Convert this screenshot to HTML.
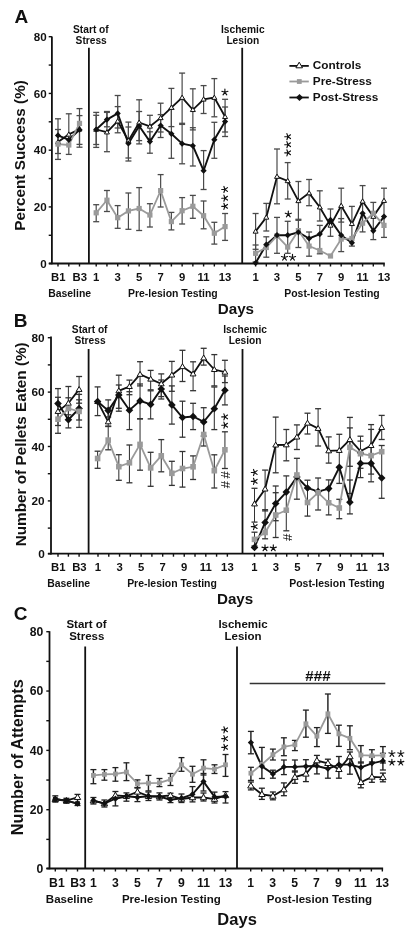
<!DOCTYPE html>
<html><head><meta charset="utf-8"><style>
html,body{margin:0;padding:0;background:#fff;}
body{width:412px;height:937px;overflow:hidden;font-family:"Liberation Sans", sans-serif;}
svg{display:block;filter:blur(0.3px);}
</style></head><body>
<svg width="412" height="937" viewBox="0 0 412 937" font-family='"Liberation Sans", sans-serif'>
<rect width="412" height="937" fill="#fff"/>
<line x1="51.90" y1="36.50" x2="51.90" y2="264.30" stroke="#111" stroke-width="1.8" />
<line x1="48.70" y1="263.50" x2="51.90" y2="263.50" stroke="#111" stroke-width="1.4" />
<text x="46.6" y="267.6" font-size="11.6" text-anchor="end" font-weight="bold" fill="#111" >0</text>
<line x1="48.70" y1="235.29" x2="51.90" y2="235.29" stroke="#111" stroke-width="1.4" />
<line x1="48.70" y1="206.92" x2="51.90" y2="206.92" stroke="#111" stroke-width="1.4" />
<text x="46.6" y="211.0" font-size="11.6" text-anchor="end" font-weight="bold" fill="#111" >20</text>
<line x1="48.70" y1="178.55" x2="51.90" y2="178.55" stroke="#111" stroke-width="1.4" />
<line x1="48.70" y1="150.18" x2="51.90" y2="150.18" stroke="#111" stroke-width="1.4" />
<text x="46.6" y="154.2" font-size="11.6" text-anchor="end" font-weight="bold" fill="#111" >40</text>
<line x1="48.70" y1="121.81" x2="51.90" y2="121.81" stroke="#111" stroke-width="1.4" />
<line x1="48.70" y1="93.44" x2="51.90" y2="93.44" stroke="#111" stroke-width="1.4" />
<text x="46.6" y="97.5" font-size="11.6" text-anchor="end" font-weight="bold" fill="#111" >60</text>
<line x1="48.70" y1="65.07" x2="51.90" y2="65.07" stroke="#111" stroke-width="1.4" />
<line x1="48.70" y1="36.70" x2="51.90" y2="36.70" stroke="#111" stroke-width="1.4" />
<text x="46.6" y="40.8" font-size="11.6" text-anchor="end" font-weight="bold" fill="#111" >80</text>
<line x1="48.90" y1="263.50" x2="384.80" y2="263.50" stroke="#111" stroke-width="1.8" />
<line x1="58.00" y1="263.50" x2="58.00" y2="266.50" stroke="#111" stroke-width="1.4" />
<line x1="68.80" y1="263.50" x2="68.80" y2="266.50" stroke="#111" stroke-width="1.4" />
<line x1="79.50" y1="263.50" x2="79.50" y2="266.50" stroke="#111" stroke-width="1.4" />
<line x1="96.20" y1="263.50" x2="96.20" y2="266.50" stroke="#111" stroke-width="1.4" />
<line x1="106.94" y1="263.50" x2="106.94" y2="266.50" stroke="#111" stroke-width="1.4" />
<line x1="117.68" y1="263.50" x2="117.68" y2="266.50" stroke="#111" stroke-width="1.4" />
<line x1="128.42" y1="263.50" x2="128.42" y2="266.50" stroke="#111" stroke-width="1.4" />
<line x1="139.16" y1="263.50" x2="139.16" y2="266.50" stroke="#111" stroke-width="1.4" />
<line x1="149.90" y1="263.50" x2="149.90" y2="266.50" stroke="#111" stroke-width="1.4" />
<line x1="160.64" y1="263.50" x2="160.64" y2="266.50" stroke="#111" stroke-width="1.4" />
<line x1="171.38" y1="263.50" x2="171.38" y2="266.50" stroke="#111" stroke-width="1.4" />
<line x1="182.12" y1="263.50" x2="182.12" y2="266.50" stroke="#111" stroke-width="1.4" />
<line x1="192.86" y1="263.50" x2="192.86" y2="266.50" stroke="#111" stroke-width="1.4" />
<line x1="203.60" y1="263.50" x2="203.60" y2="266.50" stroke="#111" stroke-width="1.4" />
<line x1="214.34" y1="263.50" x2="214.34" y2="266.50" stroke="#111" stroke-width="1.4" />
<line x1="225.08" y1="263.50" x2="225.08" y2="266.50" stroke="#111" stroke-width="1.4" />
<line x1="255.60" y1="263.50" x2="255.60" y2="266.50" stroke="#111" stroke-width="1.4" />
<line x1="266.30" y1="263.50" x2="266.30" y2="266.50" stroke="#111" stroke-width="1.4" />
<line x1="277.00" y1="263.50" x2="277.00" y2="266.50" stroke="#111" stroke-width="1.4" />
<line x1="287.70" y1="263.50" x2="287.70" y2="266.50" stroke="#111" stroke-width="1.4" />
<line x1="298.40" y1="263.50" x2="298.40" y2="266.50" stroke="#111" stroke-width="1.4" />
<line x1="309.10" y1="263.50" x2="309.10" y2="266.50" stroke="#111" stroke-width="1.4" />
<line x1="319.80" y1="263.50" x2="319.80" y2="266.50" stroke="#111" stroke-width="1.4" />
<line x1="330.50" y1="263.50" x2="330.50" y2="266.50" stroke="#111" stroke-width="1.4" />
<line x1="341.20" y1="263.50" x2="341.20" y2="266.50" stroke="#111" stroke-width="1.4" />
<line x1="351.90" y1="263.50" x2="351.90" y2="266.50" stroke="#111" stroke-width="1.4" />
<line x1="362.60" y1="263.50" x2="362.60" y2="266.50" stroke="#111" stroke-width="1.4" />
<line x1="373.30" y1="263.50" x2="373.30" y2="266.50" stroke="#111" stroke-width="1.4" />
<line x1="384.00" y1="263.50" x2="384.00" y2="266.50" stroke="#111" stroke-width="1.4" />
<text x="58.3" y="281.1" font-size="11.3" text-anchor="middle" font-weight="bold" fill="#111" >B1</text>
<text x="79.8" y="281.1" font-size="11.3" text-anchor="middle" font-weight="bold" fill="#111" >B3</text>
<text x="96.2" y="281.1" font-size="11.3" text-anchor="middle" font-weight="bold" fill="#111" >1</text>
<text x="255.6" y="281.1" font-size="11.3" text-anchor="middle" font-weight="bold" fill="#111" >1</text>
<text x="117.7" y="281.1" font-size="11.3" text-anchor="middle" font-weight="bold" fill="#111" >3</text>
<text x="277.0" y="281.1" font-size="11.3" text-anchor="middle" font-weight="bold" fill="#111" >3</text>
<text x="139.2" y="281.1" font-size="11.3" text-anchor="middle" font-weight="bold" fill="#111" >5</text>
<text x="298.4" y="281.1" font-size="11.3" text-anchor="middle" font-weight="bold" fill="#111" >5</text>
<text x="160.6" y="281.1" font-size="11.3" text-anchor="middle" font-weight="bold" fill="#111" >7</text>
<text x="319.8" y="281.1" font-size="11.3" text-anchor="middle" font-weight="bold" fill="#111" >7</text>
<text x="182.1" y="281.1" font-size="11.3" text-anchor="middle" font-weight="bold" fill="#111" >9</text>
<text x="341.2" y="281.1" font-size="11.3" text-anchor="middle" font-weight="bold" fill="#111" >9</text>
<text x="203.6" y="281.1" font-size="11.3" text-anchor="middle" font-weight="bold" fill="#111" >11</text>
<text x="362.6" y="281.1" font-size="11.3" text-anchor="middle" font-weight="bold" fill="#111" >11</text>
<text x="225.1" y="281.1" font-size="11.3" text-anchor="middle" font-weight="bold" fill="#111" >13</text>
<text x="384.0" y="281.1" font-size="11.3" text-anchor="middle" font-weight="bold" fill="#111" >13</text>
<text x="69.6" y="296.5" font-size="10.45" text-anchor="middle" font-weight="bold" fill="#111" >Baseline</text>
<text x="172.8" y="296.5" font-size="10.45" text-anchor="middle" font-weight="bold" fill="#111" >Pre-lesion Testing</text>
<text x="332.0" y="296.5" font-size="10.45" text-anchor="middle" font-weight="bold" fill="#111" >Post-lesion Testing</text>
<text x="235.9" y="314.4" font-size="15.2" text-anchor="middle" font-weight="bold" fill="#111" >Days</text>
<line x1="88.90" y1="47.80" x2="88.90" y2="263.50" stroke="#111" stroke-width="1.8" />
<line x1="242.20" y1="47.80" x2="242.20" y2="263.50" stroke="#111" stroke-width="1.8" />
<text x="90.9" y="33.0" font-size="10.2" text-anchor="middle" font-weight="bold" fill="#111" >Start of</text>
<text x="91.2" y="44.0" font-size="10.2" text-anchor="middle" font-weight="bold" fill="#111" >Stress</text>
<text x="242.8" y="33.0" font-size="10.2" text-anchor="middle" font-weight="bold" fill="#111" >Ischemic</text>
<text x="242.8" y="44.0" font-size="10.2" text-anchor="middle" font-weight="bold" fill="#111" >Lesion</text>
<text x="14.5" y="23.4" font-size="19" text-anchor="start" font-weight="bold" fill="#111" >A</text>
<text x="0" y="0" font-size="15.3" text-anchor="middle" font-weight="bold" fill="#111" transform="translate(25.4,155.4) rotate(-90)">Percent Success (%)</text>
<line x1="58.00" y1="118.80" x2="58.00" y2="153.50" stroke="#4a4a4a" stroke-width="1.2" />
<line x1="55.00" y1="118.80" x2="61.00" y2="118.80" stroke="#4a4a4a" stroke-width="1.3" />
<line x1="55.00" y1="153.50" x2="61.00" y2="153.50" stroke="#4a4a4a" stroke-width="1.3" />
<line x1="58.00" y1="129.50" x2="58.00" y2="159.40" stroke="#4a4a4a" stroke-width="1.2" />
<line x1="55.00" y1="129.50" x2="61.00" y2="129.50" stroke="#4a4a4a" stroke-width="1.3" />
<line x1="55.00" y1="159.40" x2="61.00" y2="159.40" stroke="#4a4a4a" stroke-width="1.3" />
<line x1="68.80" y1="113.80" x2="68.80" y2="154.40" stroke="#4a4a4a" stroke-width="1.2" />
<line x1="65.80" y1="113.80" x2="71.80" y2="113.80" stroke="#4a4a4a" stroke-width="1.3" />
<line x1="65.80" y1="154.40" x2="71.80" y2="154.40" stroke="#4a4a4a" stroke-width="1.3" />
<line x1="79.50" y1="108.60" x2="79.50" y2="147.20" stroke="#4a4a4a" stroke-width="1.2" />
<line x1="76.50" y1="108.60" x2="82.50" y2="108.60" stroke="#4a4a4a" stroke-width="1.3" />
<line x1="76.50" y1="147.20" x2="82.50" y2="147.20" stroke="#4a4a4a" stroke-width="1.3" />
<line x1="79.50" y1="115.60" x2="79.50" y2="144.40" stroke="#4a4a4a" stroke-width="1.2" />
<line x1="76.50" y1="115.60" x2="82.50" y2="115.60" stroke="#4a4a4a" stroke-width="1.3" />
<line x1="76.50" y1="144.40" x2="82.50" y2="144.40" stroke="#4a4a4a" stroke-width="1.3" />
<line x1="96.20" y1="112.40" x2="96.20" y2="144.50" stroke="#4a4a4a" stroke-width="1.2" />
<line x1="93.20" y1="112.40" x2="99.20" y2="112.40" stroke="#4a4a4a" stroke-width="1.3" />
<line x1="93.20" y1="144.50" x2="99.20" y2="144.50" stroke="#4a4a4a" stroke-width="1.3" />
<line x1="96.20" y1="115.30" x2="96.20" y2="147.40" stroke="#4a4a4a" stroke-width="1.2" />
<line x1="93.20" y1="115.30" x2="99.20" y2="115.30" stroke="#4a4a4a" stroke-width="1.3" />
<line x1="93.20" y1="147.40" x2="99.20" y2="147.40" stroke="#4a4a4a" stroke-width="1.3" />
<line x1="96.20" y1="204.70" x2="96.20" y2="221.70" stroke="#4a4a4a" stroke-width="1.2" />
<line x1="93.20" y1="204.70" x2="99.20" y2="204.70" stroke="#4a4a4a" stroke-width="1.3" />
<line x1="93.20" y1="221.70" x2="99.20" y2="221.70" stroke="#4a4a4a" stroke-width="1.3" />
<line x1="106.94" y1="111.50" x2="106.94" y2="151.70" stroke="#4a4a4a" stroke-width="1.2" />
<line x1="103.94" y1="111.50" x2="109.94" y2="111.50" stroke="#4a4a4a" stroke-width="1.3" />
<line x1="103.94" y1="151.70" x2="109.94" y2="151.70" stroke="#4a4a4a" stroke-width="1.3" />
<line x1="106.94" y1="112.40" x2="106.94" y2="126.80" stroke="#4a4a4a" stroke-width="1.2" />
<line x1="103.94" y1="112.40" x2="109.94" y2="112.40" stroke="#4a4a4a" stroke-width="1.3" />
<line x1="103.94" y1="126.80" x2="109.94" y2="126.80" stroke="#4a4a4a" stroke-width="1.3" />
<line x1="106.94" y1="190.50" x2="106.94" y2="211.50" stroke="#4a4a4a" stroke-width="1.2" />
<line x1="103.94" y1="190.50" x2="109.94" y2="190.50" stroke="#4a4a4a" stroke-width="1.3" />
<line x1="103.94" y1="211.50" x2="109.94" y2="211.50" stroke="#4a4a4a" stroke-width="1.3" />
<line x1="117.68" y1="95.50" x2="117.68" y2="128.00" stroke="#4a4a4a" stroke-width="1.2" />
<line x1="114.68" y1="95.50" x2="120.68" y2="95.50" stroke="#4a4a4a" stroke-width="1.3" />
<line x1="114.68" y1="128.00" x2="120.68" y2="128.00" stroke="#4a4a4a" stroke-width="1.3" />
<line x1="117.68" y1="106.60" x2="117.68" y2="132.80" stroke="#4a4a4a" stroke-width="1.2" />
<line x1="114.68" y1="106.60" x2="120.68" y2="106.60" stroke="#4a4a4a" stroke-width="1.3" />
<line x1="114.68" y1="132.80" x2="120.68" y2="132.80" stroke="#4a4a4a" stroke-width="1.3" />
<line x1="117.68" y1="205.60" x2="117.68" y2="228.30" stroke="#4a4a4a" stroke-width="1.2" />
<line x1="114.68" y1="205.60" x2="120.68" y2="205.60" stroke="#4a4a4a" stroke-width="1.3" />
<line x1="114.68" y1="228.30" x2="120.68" y2="228.30" stroke="#4a4a4a" stroke-width="1.3" />
<line x1="128.42" y1="122.10" x2="128.42" y2="158.00" stroke="#4a4a4a" stroke-width="1.2" />
<line x1="125.42" y1="122.10" x2="131.42" y2="122.10" stroke="#4a4a4a" stroke-width="1.3" />
<line x1="125.42" y1="158.00" x2="131.42" y2="158.00" stroke="#4a4a4a" stroke-width="1.3" />
<line x1="128.42" y1="127.00" x2="128.42" y2="161.00" stroke="#4a4a4a" stroke-width="1.2" />
<line x1="125.42" y1="127.00" x2="131.42" y2="127.00" stroke="#4a4a4a" stroke-width="1.3" />
<line x1="125.42" y1="161.00" x2="131.42" y2="161.00" stroke="#4a4a4a" stroke-width="1.3" />
<line x1="128.42" y1="193.00" x2="128.42" y2="229.30" stroke="#4a4a4a" stroke-width="1.2" />
<line x1="125.42" y1="193.00" x2="131.42" y2="193.00" stroke="#4a4a4a" stroke-width="1.3" />
<line x1="125.42" y1="229.30" x2="131.42" y2="229.30" stroke="#4a4a4a" stroke-width="1.3" />
<line x1="139.16" y1="99.80" x2="139.16" y2="140.60" stroke="#4a4a4a" stroke-width="1.2" />
<line x1="136.16" y1="99.80" x2="142.16" y2="99.80" stroke="#4a4a4a" stroke-width="1.3" />
<line x1="136.16" y1="140.60" x2="142.16" y2="140.60" stroke="#4a4a4a" stroke-width="1.3" />
<line x1="139.16" y1="111.50" x2="139.16" y2="143.90" stroke="#4a4a4a" stroke-width="1.2" />
<line x1="136.16" y1="111.50" x2="142.16" y2="111.50" stroke="#4a4a4a" stroke-width="1.3" />
<line x1="136.16" y1="143.90" x2="142.16" y2="143.90" stroke="#4a4a4a" stroke-width="1.3" />
<line x1="139.16" y1="187.60" x2="139.16" y2="230.50" stroke="#4a4a4a" stroke-width="1.2" />
<line x1="136.16" y1="187.60" x2="142.16" y2="187.60" stroke="#4a4a4a" stroke-width="1.3" />
<line x1="136.16" y1="230.50" x2="142.16" y2="230.50" stroke="#4a4a4a" stroke-width="1.3" />
<line x1="149.90" y1="115.30" x2="149.90" y2="138.60" stroke="#4a4a4a" stroke-width="1.2" />
<line x1="146.90" y1="115.30" x2="152.90" y2="115.30" stroke="#4a4a4a" stroke-width="1.3" />
<line x1="146.90" y1="138.60" x2="152.90" y2="138.60" stroke="#4a4a4a" stroke-width="1.3" />
<line x1="149.90" y1="131.80" x2="149.90" y2="153.20" stroke="#4a4a4a" stroke-width="1.2" />
<line x1="146.90" y1="131.80" x2="152.90" y2="131.80" stroke="#4a4a4a" stroke-width="1.3" />
<line x1="146.90" y1="153.20" x2="152.90" y2="153.20" stroke="#4a4a4a" stroke-width="1.3" />
<line x1="149.90" y1="203.70" x2="149.90" y2="227.00" stroke="#4a4a4a" stroke-width="1.2" />
<line x1="146.90" y1="203.70" x2="152.90" y2="203.70" stroke="#4a4a4a" stroke-width="1.3" />
<line x1="146.90" y1="227.00" x2="152.90" y2="227.00" stroke="#4a4a4a" stroke-width="1.3" />
<line x1="160.64" y1="103.20" x2="160.64" y2="132.00" stroke="#4a4a4a" stroke-width="1.2" />
<line x1="157.64" y1="103.20" x2="163.64" y2="103.20" stroke="#4a4a4a" stroke-width="1.3" />
<line x1="157.64" y1="132.00" x2="163.64" y2="132.00" stroke="#4a4a4a" stroke-width="1.3" />
<line x1="160.64" y1="114.60" x2="160.64" y2="137.50" stroke="#4a4a4a" stroke-width="1.2" />
<line x1="157.64" y1="114.60" x2="163.64" y2="114.60" stroke="#4a4a4a" stroke-width="1.3" />
<line x1="157.64" y1="137.50" x2="163.64" y2="137.50" stroke="#4a4a4a" stroke-width="1.3" />
<line x1="160.64" y1="174.60" x2="160.64" y2="207.00" stroke="#4a4a4a" stroke-width="1.2" />
<line x1="157.64" y1="174.60" x2="163.64" y2="174.60" stroke="#4a4a4a" stroke-width="1.3" />
<line x1="157.64" y1="207.00" x2="163.64" y2="207.00" stroke="#4a4a4a" stroke-width="1.3" />
<line x1="171.38" y1="88.40" x2="171.38" y2="126.60" stroke="#4a4a4a" stroke-width="1.2" />
<line x1="168.38" y1="88.40" x2="174.38" y2="88.40" stroke="#4a4a4a" stroke-width="1.3" />
<line x1="168.38" y1="126.60" x2="174.38" y2="126.60" stroke="#4a4a4a" stroke-width="1.3" />
<line x1="171.38" y1="109.30" x2="171.38" y2="158.30" stroke="#4a4a4a" stroke-width="1.2" />
<line x1="168.38" y1="109.30" x2="174.38" y2="109.30" stroke="#4a4a4a" stroke-width="1.3" />
<line x1="168.38" y1="158.30" x2="174.38" y2="158.30" stroke="#4a4a4a" stroke-width="1.3" />
<line x1="171.38" y1="212.40" x2="171.38" y2="229.90" stroke="#4a4a4a" stroke-width="1.2" />
<line x1="168.38" y1="212.40" x2="174.38" y2="212.40" stroke="#4a4a4a" stroke-width="1.3" />
<line x1="168.38" y1="229.90" x2="174.38" y2="229.90" stroke="#4a4a4a" stroke-width="1.3" />
<line x1="182.12" y1="73.10" x2="182.12" y2="124.40" stroke="#4a4a4a" stroke-width="1.2" />
<line x1="179.12" y1="73.10" x2="185.12" y2="73.10" stroke="#4a4a4a" stroke-width="1.3" />
<line x1="179.12" y1="124.40" x2="185.12" y2="124.40" stroke="#4a4a4a" stroke-width="1.3" />
<line x1="182.12" y1="123.30" x2="182.12" y2="163.80" stroke="#4a4a4a" stroke-width="1.2" />
<line x1="179.12" y1="123.30" x2="185.12" y2="123.30" stroke="#4a4a4a" stroke-width="1.3" />
<line x1="179.12" y1="163.80" x2="185.12" y2="163.80" stroke="#4a4a4a" stroke-width="1.3" />
<line x1="182.12" y1="197.60" x2="182.12" y2="224.00" stroke="#4a4a4a" stroke-width="1.2" />
<line x1="179.12" y1="197.60" x2="185.12" y2="197.60" stroke="#4a4a4a" stroke-width="1.3" />
<line x1="179.12" y1="224.00" x2="185.12" y2="224.00" stroke="#4a4a4a" stroke-width="1.3" />
<line x1="192.86" y1="88.80" x2="192.86" y2="129.90" stroke="#4a4a4a" stroke-width="1.2" />
<line x1="189.86" y1="88.80" x2="195.86" y2="88.80" stroke="#4a4a4a" stroke-width="1.3" />
<line x1="189.86" y1="129.90" x2="195.86" y2="129.90" stroke="#4a4a4a" stroke-width="1.3" />
<line x1="192.86" y1="127.70" x2="192.86" y2="166.00" stroke="#4a4a4a" stroke-width="1.2" />
<line x1="189.86" y1="127.70" x2="195.86" y2="127.70" stroke="#4a4a4a" stroke-width="1.3" />
<line x1="189.86" y1="166.00" x2="195.86" y2="166.00" stroke="#4a4a4a" stroke-width="1.3" />
<line x1="192.86" y1="195.40" x2="192.86" y2="218.30" stroke="#4a4a4a" stroke-width="1.2" />
<line x1="189.86" y1="195.40" x2="195.86" y2="195.40" stroke="#4a4a4a" stroke-width="1.3" />
<line x1="189.86" y1="218.30" x2="195.86" y2="218.30" stroke="#4a4a4a" stroke-width="1.3" />
<line x1="203.60" y1="85.60" x2="203.60" y2="113.50" stroke="#4a4a4a" stroke-width="1.2" />
<line x1="200.60" y1="85.60" x2="206.60" y2="85.60" stroke="#4a4a4a" stroke-width="1.3" />
<line x1="200.60" y1="113.50" x2="206.60" y2="113.50" stroke="#4a4a4a" stroke-width="1.3" />
<line x1="203.60" y1="150.60" x2="203.60" y2="189.50" stroke="#4a4a4a" stroke-width="1.2" />
<line x1="200.60" y1="150.60" x2="206.60" y2="150.60" stroke="#4a4a4a" stroke-width="1.3" />
<line x1="200.60" y1="189.50" x2="206.60" y2="189.50" stroke="#4a4a4a" stroke-width="1.3" />
<line x1="203.60" y1="201.00" x2="203.60" y2="228.80" stroke="#4a4a4a" stroke-width="1.2" />
<line x1="200.60" y1="201.00" x2="206.60" y2="201.00" stroke="#4a4a4a" stroke-width="1.3" />
<line x1="200.60" y1="228.80" x2="206.60" y2="228.80" stroke="#4a4a4a" stroke-width="1.3" />
<line x1="214.34" y1="78.60" x2="214.34" y2="116.80" stroke="#4a4a4a" stroke-width="1.2" />
<line x1="211.34" y1="78.60" x2="217.34" y2="78.60" stroke="#4a4a4a" stroke-width="1.3" />
<line x1="211.34" y1="116.80" x2="217.34" y2="116.80" stroke="#4a4a4a" stroke-width="1.3" />
<line x1="214.34" y1="122.30" x2="214.34" y2="158.30" stroke="#4a4a4a" stroke-width="1.2" />
<line x1="211.34" y1="122.30" x2="217.34" y2="122.30" stroke="#4a4a4a" stroke-width="1.3" />
<line x1="211.34" y1="158.30" x2="217.34" y2="158.30" stroke="#4a4a4a" stroke-width="1.3" />
<line x1="214.34" y1="222.30" x2="214.34" y2="244.10" stroke="#4a4a4a" stroke-width="1.2" />
<line x1="211.34" y1="222.30" x2="217.34" y2="222.30" stroke="#4a4a4a" stroke-width="1.3" />
<line x1="211.34" y1="244.10" x2="217.34" y2="244.10" stroke="#4a4a4a" stroke-width="1.3" />
<line x1="225.08" y1="99.30" x2="225.08" y2="132.00" stroke="#4a4a4a" stroke-width="1.2" />
<line x1="222.08" y1="99.30" x2="228.08" y2="99.30" stroke="#4a4a4a" stroke-width="1.3" />
<line x1="222.08" y1="132.00" x2="228.08" y2="132.00" stroke="#4a4a4a" stroke-width="1.3" />
<line x1="225.08" y1="107.00" x2="225.08" y2="136.50" stroke="#4a4a4a" stroke-width="1.2" />
<line x1="222.08" y1="107.00" x2="228.08" y2="107.00" stroke="#4a4a4a" stroke-width="1.3" />
<line x1="222.08" y1="136.50" x2="228.08" y2="136.50" stroke="#4a4a4a" stroke-width="1.3" />
<line x1="225.08" y1="213.50" x2="225.08" y2="240.40" stroke="#4a4a4a" stroke-width="1.2" />
<line x1="222.08" y1="213.50" x2="228.08" y2="213.50" stroke="#4a4a4a" stroke-width="1.3" />
<line x1="222.08" y1="240.40" x2="228.08" y2="240.40" stroke="#4a4a4a" stroke-width="1.3" />
<line x1="255.60" y1="213.50" x2="255.60" y2="249.30" stroke="#4a4a4a" stroke-width="1.2" />
<line x1="252.60" y1="213.50" x2="258.60" y2="213.50" stroke="#4a4a4a" stroke-width="1.3" />
<line x1="252.60" y1="249.30" x2="258.60" y2="249.30" stroke="#4a4a4a" stroke-width="1.3" />
<line x1="255.60" y1="245.00" x2="255.60" y2="262.00" stroke="#4a4a4a" stroke-width="1.2" />
<line x1="252.60" y1="245.00" x2="258.60" y2="245.00" stroke="#4a4a4a" stroke-width="1.3" />
<line x1="252.60" y1="262.00" x2="258.60" y2="262.00" stroke="#4a4a4a" stroke-width="1.3" />
<line x1="266.30" y1="203.40" x2="266.30" y2="231.00" stroke="#4a4a4a" stroke-width="1.2" />
<line x1="263.30" y1="203.40" x2="269.30" y2="203.40" stroke="#4a4a4a" stroke-width="1.3" />
<line x1="263.30" y1="231.00" x2="269.30" y2="231.00" stroke="#4a4a4a" stroke-width="1.3" />
<line x1="266.30" y1="236.80" x2="266.30" y2="257.20" stroke="#4a4a4a" stroke-width="1.2" />
<line x1="263.30" y1="236.80" x2="269.30" y2="236.80" stroke="#4a4a4a" stroke-width="1.3" />
<line x1="263.30" y1="257.20" x2="269.30" y2="257.20" stroke="#4a4a4a" stroke-width="1.3" />
<line x1="277.00" y1="149.00" x2="277.00" y2="203.80" stroke="#4a4a4a" stroke-width="1.2" />
<line x1="274.00" y1="149.00" x2="280.00" y2="149.00" stroke="#4a4a4a" stroke-width="1.3" />
<line x1="274.00" y1="203.80" x2="280.00" y2="203.80" stroke="#4a4a4a" stroke-width="1.3" />
<line x1="277.00" y1="217.40" x2="277.00" y2="253.30" stroke="#4a4a4a" stroke-width="1.2" />
<line x1="274.00" y1="217.40" x2="280.00" y2="217.40" stroke="#4a4a4a" stroke-width="1.3" />
<line x1="274.00" y1="253.30" x2="280.00" y2="253.30" stroke="#4a4a4a" stroke-width="1.3" />
<line x1="287.70" y1="162.60" x2="287.70" y2="199.00" stroke="#4a4a4a" stroke-width="1.2" />
<line x1="284.70" y1="162.60" x2="290.70" y2="162.60" stroke="#4a4a4a" stroke-width="1.3" />
<line x1="284.70" y1="199.00" x2="290.70" y2="199.00" stroke="#4a4a4a" stroke-width="1.3" />
<line x1="287.70" y1="221.30" x2="287.70" y2="253.30" stroke="#4a4a4a" stroke-width="1.2" />
<line x1="284.70" y1="221.30" x2="290.70" y2="221.30" stroke="#4a4a4a" stroke-width="1.3" />
<line x1="284.70" y1="253.30" x2="290.70" y2="253.30" stroke="#4a4a4a" stroke-width="1.3" />
<line x1="298.40" y1="181.50" x2="298.40" y2="220.30" stroke="#4a4a4a" stroke-width="1.2" />
<line x1="295.40" y1="181.50" x2="301.40" y2="181.50" stroke="#4a4a4a" stroke-width="1.3" />
<line x1="295.40" y1="220.30" x2="301.40" y2="220.30" stroke="#4a4a4a" stroke-width="1.3" />
<line x1="298.40" y1="219.30" x2="298.40" y2="247.50" stroke="#4a4a4a" stroke-width="1.2" />
<line x1="295.40" y1="219.30" x2="301.40" y2="219.30" stroke="#4a4a4a" stroke-width="1.3" />
<line x1="295.40" y1="247.50" x2="301.40" y2="247.50" stroke="#4a4a4a" stroke-width="1.3" />
<line x1="309.10" y1="179.50" x2="309.10" y2="205.70" stroke="#4a4a4a" stroke-width="1.2" />
<line x1="306.10" y1="179.50" x2="312.10" y2="179.50" stroke="#4a4a4a" stroke-width="1.3" />
<line x1="306.10" y1="205.70" x2="312.10" y2="205.70" stroke="#4a4a4a" stroke-width="1.3" />
<line x1="309.10" y1="232.00" x2="309.10" y2="256.20" stroke="#4a4a4a" stroke-width="1.2" />
<line x1="306.10" y1="232.00" x2="312.10" y2="232.00" stroke="#4a4a4a" stroke-width="1.3" />
<line x1="306.10" y1="256.20" x2="312.10" y2="256.20" stroke="#4a4a4a" stroke-width="1.3" />
<line x1="319.80" y1="190.80" x2="319.80" y2="221.00" stroke="#4a4a4a" stroke-width="1.2" />
<line x1="316.80" y1="190.80" x2="322.80" y2="190.80" stroke="#4a4a4a" stroke-width="1.3" />
<line x1="316.80" y1="221.00" x2="322.80" y2="221.00" stroke="#4a4a4a" stroke-width="1.3" />
<line x1="319.80" y1="225.40" x2="319.80" y2="253.80" stroke="#4a4a4a" stroke-width="1.2" />
<line x1="316.80" y1="225.40" x2="322.80" y2="225.40" stroke="#4a4a4a" stroke-width="1.3" />
<line x1="316.80" y1="253.80" x2="322.80" y2="253.80" stroke="#4a4a4a" stroke-width="1.3" />
<line x1="330.50" y1="209.00" x2="330.50" y2="236.30" stroke="#4a4a4a" stroke-width="1.2" />
<line x1="327.50" y1="209.00" x2="333.50" y2="209.00" stroke="#4a4a4a" stroke-width="1.3" />
<line x1="327.50" y1="236.30" x2="333.50" y2="236.30" stroke="#4a4a4a" stroke-width="1.3" />
<line x1="341.20" y1="188.20" x2="341.20" y2="222.10" stroke="#4a4a4a" stroke-width="1.2" />
<line x1="338.20" y1="188.20" x2="344.20" y2="188.20" stroke="#4a4a4a" stroke-width="1.3" />
<line x1="338.20" y1="222.10" x2="344.20" y2="222.10" stroke="#4a4a4a" stroke-width="1.3" />
<line x1="341.20" y1="218.60" x2="341.20" y2="251.60" stroke="#4a4a4a" stroke-width="1.2" />
<line x1="338.20" y1="218.60" x2="344.20" y2="218.60" stroke="#4a4a4a" stroke-width="1.3" />
<line x1="338.20" y1="251.60" x2="344.20" y2="251.60" stroke="#4a4a4a" stroke-width="1.3" />
<line x1="351.90" y1="206.40" x2="351.90" y2="246.10" stroke="#4a4a4a" stroke-width="1.2" />
<line x1="348.90" y1="206.40" x2="354.90" y2="206.40" stroke="#4a4a4a" stroke-width="1.3" />
<line x1="348.90" y1="246.10" x2="354.90" y2="246.10" stroke="#4a4a4a" stroke-width="1.3" />
<line x1="362.60" y1="185.60" x2="362.60" y2="231.90" stroke="#4a4a4a" stroke-width="1.2" />
<line x1="359.60" y1="185.60" x2="365.60" y2="185.60" stroke="#4a4a4a" stroke-width="1.3" />
<line x1="359.60" y1="231.90" x2="365.60" y2="231.90" stroke="#4a4a4a" stroke-width="1.3" />
<line x1="373.30" y1="202.40" x2="373.30" y2="239.60" stroke="#4a4a4a" stroke-width="1.2" />
<line x1="370.30" y1="202.40" x2="376.30" y2="202.40" stroke="#4a4a4a" stroke-width="1.3" />
<line x1="370.30" y1="239.60" x2="376.30" y2="239.60" stroke="#4a4a4a" stroke-width="1.3" />
<line x1="384.00" y1="188.20" x2="384.00" y2="237.40" stroke="#4a4a4a" stroke-width="1.2" />
<line x1="381.00" y1="188.20" x2="387.00" y2="188.20" stroke="#4a4a4a" stroke-width="1.3" />
<line x1="381.00" y1="237.40" x2="387.00" y2="237.40" stroke="#4a4a4a" stroke-width="1.3" />
<polyline points="58.00,142.00 68.80,134.40 79.50,129.30" fill="none" stroke="#111" stroke-width="1.8" stroke-linejoin="miter"/>
<polyline points="96.20,129.50 106.94,132.20 117.68,121.20 128.42,140.60 139.16,122.50 149.90,126.40 160.64,117.90 171.38,107.60 182.12,97.60 192.86,109.80 203.60,99.30 214.34,97.60 225.08,116.80" fill="none" stroke="#111" stroke-width="1.8" stroke-linejoin="miter"/>
<polyline points="255.60,231.40 266.30,217.40 277.00,176.60 287.70,180.90 298.40,200.90 309.10,193.10 319.80,207.20 330.50,225.40 341.20,205.70 351.90,223.80 362.60,201.30 373.30,216.60 384.00,200.70" fill="none" stroke="#111" stroke-width="1.8" stroke-linejoin="miter"/>
<polyline points="58.00,135.40 68.80,139.80 79.50,129.70" fill="none" stroke="#111" stroke-width="1.9" stroke-linejoin="miter"/>
<polyline points="96.20,129.50 106.94,119.60 117.68,113.40 128.42,143.50 139.16,126.00 149.90,141.60 160.64,125.50 171.38,133.80 182.12,143.70 192.86,145.80 203.60,170.70 214.34,139.70 225.08,121.60" fill="none" stroke="#111" stroke-width="1.9" stroke-linejoin="miter"/>
<polyline points="255.60,263.00 266.30,244.60 277.00,235.20 287.70,235.20 298.40,232.30 309.10,238.50 319.80,234.10 330.50,219.90 341.20,235.20 351.90,242.80 362.60,213.30 373.30,230.80 384.00,216.60" fill="none" stroke="#111" stroke-width="1.9" stroke-linejoin="miter"/>
<polyline points="58.00,144.10 68.80,145.00 79.50,123.40" fill="none" stroke="#9a9a9a" stroke-width="1.8" stroke-linejoin="miter"/>
<polyline points="96.20,212.80 106.94,200.20 117.68,217.70 128.42,210.90 139.16,208.50 149.90,215.00 160.64,190.60 171.38,221.60 182.12,210.70 192.86,206.30 203.60,215.70 214.34,233.20 225.08,226.60" fill="none" stroke="#9a9a9a" stroke-width="1.8" stroke-linejoin="miter"/>
<polyline points="255.60,253.30 266.30,247.50 277.00,235.80 287.70,247.10 298.40,230.60 309.10,246.10 319.80,250.50 330.50,256.00 341.20,239.10 351.90,238.50 362.60,223.20 373.30,213.30 384.00,225.40" fill="none" stroke="#9a9a9a" stroke-width="1.8" stroke-linejoin="miter"/>
<polygon points="58.00,139.50 60.50,143.75 55.50,143.75" fill="#fff" stroke="#111" stroke-width="1.0"/>
<polygon points="68.80,131.90 71.30,136.15 66.30,136.15" fill="#fff" stroke="#111" stroke-width="1.0"/>
<polygon points="79.50,126.80 82.00,131.05 77.00,131.05" fill="#fff" stroke="#111" stroke-width="1.0"/>
<polygon points="96.20,127.00 98.70,131.25 93.70,131.25" fill="#fff" stroke="#111" stroke-width="1.0"/>
<polygon points="106.94,129.70 109.44,133.95 104.44,133.95" fill="#fff" stroke="#111" stroke-width="1.0"/>
<polygon points="117.68,118.70 120.18,122.95 115.18,122.95" fill="#fff" stroke="#111" stroke-width="1.0"/>
<polygon points="128.42,138.10 130.92,142.35 125.92,142.35" fill="#fff" stroke="#111" stroke-width="1.0"/>
<polygon points="139.16,120.00 141.66,124.25 136.66,124.25" fill="#fff" stroke="#111" stroke-width="1.0"/>
<polygon points="149.90,123.90 152.40,128.15 147.40,128.15" fill="#fff" stroke="#111" stroke-width="1.0"/>
<polygon points="160.64,115.40 163.14,119.65 158.14,119.65" fill="#fff" stroke="#111" stroke-width="1.0"/>
<polygon points="171.38,105.10 173.88,109.35 168.88,109.35" fill="#fff" stroke="#111" stroke-width="1.0"/>
<polygon points="182.12,95.10 184.62,99.35 179.62,99.35" fill="#fff" stroke="#111" stroke-width="1.0"/>
<polygon points="192.86,107.30 195.36,111.55 190.36,111.55" fill="#fff" stroke="#111" stroke-width="1.0"/>
<polygon points="203.60,96.80 206.10,101.05 201.10,101.05" fill="#fff" stroke="#111" stroke-width="1.0"/>
<polygon points="214.34,95.10 216.84,99.35 211.84,99.35" fill="#fff" stroke="#111" stroke-width="1.0"/>
<polygon points="225.08,114.30 227.58,118.55 222.58,118.55" fill="#fff" stroke="#111" stroke-width="1.0"/>
<polygon points="255.60,228.90 258.10,233.15 253.10,233.15" fill="#fff" stroke="#111" stroke-width="1.0"/>
<polygon points="266.30,214.90 268.80,219.15 263.80,219.15" fill="#fff" stroke="#111" stroke-width="1.0"/>
<polygon points="277.00,174.10 279.50,178.35 274.50,178.35" fill="#fff" stroke="#111" stroke-width="1.0"/>
<polygon points="287.70,178.40 290.20,182.65 285.20,182.65" fill="#fff" stroke="#111" stroke-width="1.0"/>
<polygon points="298.40,198.40 300.90,202.65 295.90,202.65" fill="#fff" stroke="#111" stroke-width="1.0"/>
<polygon points="309.10,190.60 311.60,194.85 306.60,194.85" fill="#fff" stroke="#111" stroke-width="1.0"/>
<polygon points="319.80,204.70 322.30,208.95 317.30,208.95" fill="#fff" stroke="#111" stroke-width="1.0"/>
<polygon points="330.50,222.90 333.00,227.15 328.00,227.15" fill="#fff" stroke="#111" stroke-width="1.0"/>
<polygon points="341.20,203.20 343.70,207.45 338.70,207.45" fill="#fff" stroke="#111" stroke-width="1.0"/>
<polygon points="351.90,221.30 354.40,225.55 349.40,225.55" fill="#fff" stroke="#111" stroke-width="1.0"/>
<polygon points="362.60,198.80 365.10,203.05 360.10,203.05" fill="#fff" stroke="#111" stroke-width="1.0"/>
<polygon points="373.30,214.10 375.80,218.35 370.80,218.35" fill="#fff" stroke="#111" stroke-width="1.0"/>
<polygon points="384.00,198.20 386.50,202.45 381.50,202.45" fill="#fff" stroke="#111" stroke-width="1.0"/>
<rect x="55.40" y="141.50" width="5.20" height="5.20" fill="#9a9a9a"/>
<rect x="66.20" y="142.40" width="5.20" height="5.20" fill="#9a9a9a"/>
<rect x="76.90" y="120.80" width="5.20" height="5.20" fill="#9a9a9a"/>
<rect x="93.60" y="210.20" width="5.20" height="5.20" fill="#9a9a9a"/>
<rect x="104.34" y="197.60" width="5.20" height="5.20" fill="#9a9a9a"/>
<rect x="115.08" y="215.10" width="5.20" height="5.20" fill="#9a9a9a"/>
<rect x="125.82" y="208.30" width="5.20" height="5.20" fill="#9a9a9a"/>
<rect x="136.56" y="205.90" width="5.20" height="5.20" fill="#9a9a9a"/>
<rect x="147.30" y="212.40" width="5.20" height="5.20" fill="#9a9a9a"/>
<rect x="158.04" y="188.00" width="5.20" height="5.20" fill="#9a9a9a"/>
<rect x="168.78" y="219.00" width="5.20" height="5.20" fill="#9a9a9a"/>
<rect x="179.52" y="208.10" width="5.20" height="5.20" fill="#9a9a9a"/>
<rect x="190.26" y="203.70" width="5.20" height="5.20" fill="#9a9a9a"/>
<rect x="201.00" y="213.10" width="5.20" height="5.20" fill="#9a9a9a"/>
<rect x="211.74" y="230.60" width="5.20" height="5.20" fill="#9a9a9a"/>
<rect x="222.48" y="224.00" width="5.20" height="5.20" fill="#9a9a9a"/>
<rect x="253.00" y="250.70" width="5.20" height="5.20" fill="#9a9a9a"/>
<rect x="263.70" y="244.90" width="5.20" height="5.20" fill="#9a9a9a"/>
<rect x="274.40" y="233.20" width="5.20" height="5.20" fill="#9a9a9a"/>
<rect x="285.10" y="244.50" width="5.20" height="5.20" fill="#9a9a9a"/>
<rect x="295.80" y="228.00" width="5.20" height="5.20" fill="#9a9a9a"/>
<rect x="306.50" y="243.50" width="5.20" height="5.20" fill="#9a9a9a"/>
<rect x="317.20" y="247.90" width="5.20" height="5.20" fill="#9a9a9a"/>
<rect x="327.90" y="253.40" width="5.20" height="5.20" fill="#9a9a9a"/>
<rect x="338.60" y="236.50" width="5.20" height="5.20" fill="#9a9a9a"/>
<rect x="349.30" y="235.90" width="5.20" height="5.20" fill="#9a9a9a"/>
<rect x="360.00" y="220.60" width="5.20" height="5.20" fill="#9a9a9a"/>
<rect x="370.70" y="210.70" width="5.20" height="5.20" fill="#9a9a9a"/>
<rect x="381.40" y="222.80" width="5.20" height="5.20" fill="#9a9a9a"/>
<polygon points="58.00,132.30 61.10,135.40 58.00,138.50 54.90,135.40" fill="#111"/>
<polygon points="68.80,136.70 71.90,139.80 68.80,142.90 65.70,139.80" fill="#111"/>
<polygon points="79.50,126.60 82.60,129.70 79.50,132.80 76.40,129.70" fill="#111"/>
<polygon points="96.20,126.40 99.30,129.50 96.20,132.60 93.10,129.50" fill="#111"/>
<polygon points="106.94,116.50 110.04,119.60 106.94,122.70 103.84,119.60" fill="#111"/>
<polygon points="117.68,110.30 120.78,113.40 117.68,116.50 114.58,113.40" fill="#111"/>
<polygon points="128.42,140.40 131.52,143.50 128.42,146.60 125.32,143.50" fill="#111"/>
<polygon points="139.16,122.90 142.26,126.00 139.16,129.10 136.06,126.00" fill="#111"/>
<polygon points="149.90,138.50 153.00,141.60 149.90,144.70 146.80,141.60" fill="#111"/>
<polygon points="160.64,122.40 163.74,125.50 160.64,128.60 157.54,125.50" fill="#111"/>
<polygon points="171.38,130.70 174.48,133.80 171.38,136.90 168.28,133.80" fill="#111"/>
<polygon points="182.12,140.60 185.22,143.70 182.12,146.80 179.02,143.70" fill="#111"/>
<polygon points="192.86,142.70 195.96,145.80 192.86,148.90 189.76,145.80" fill="#111"/>
<polygon points="203.60,167.60 206.70,170.70 203.60,173.80 200.50,170.70" fill="#111"/>
<polygon points="214.34,136.60 217.44,139.70 214.34,142.80 211.24,139.70" fill="#111"/>
<polygon points="225.08,118.50 228.18,121.60 225.08,124.70 221.98,121.60" fill="#111"/>
<polygon points="255.60,259.90 258.70,263.00 255.60,266.10 252.50,263.00" fill="#111"/>
<polygon points="266.30,241.50 269.40,244.60 266.30,247.70 263.20,244.60" fill="#111"/>
<polygon points="277.00,232.10 280.10,235.20 277.00,238.30 273.90,235.20" fill="#111"/>
<polygon points="287.70,232.10 290.80,235.20 287.70,238.30 284.60,235.20" fill="#111"/>
<polygon points="298.40,229.20 301.50,232.30 298.40,235.40 295.30,232.30" fill="#111"/>
<polygon points="309.10,235.40 312.20,238.50 309.10,241.60 306.00,238.50" fill="#111"/>
<polygon points="319.80,231.00 322.90,234.10 319.80,237.20 316.70,234.10" fill="#111"/>
<polygon points="330.50,216.80 333.60,219.90 330.50,223.00 327.40,219.90" fill="#111"/>
<polygon points="341.20,232.10 344.30,235.20 341.20,238.30 338.10,235.20" fill="#111"/>
<polygon points="351.90,239.70 355.00,242.80 351.90,245.90 348.80,242.80" fill="#111"/>
<polygon points="362.60,210.20 365.70,213.30 362.60,216.40 359.50,213.30" fill="#111"/>
<polygon points="373.30,227.70 376.40,230.80 373.30,233.90 370.20,230.80" fill="#111"/>
<polygon points="384.00,213.50 387.10,216.60 384.00,219.70 380.90,216.60" fill="#111"/>
<path d="M224.90,92.30L224.90,89.10M224.90,92.30L227.94,91.31M224.90,92.30L226.78,94.89M224.90,92.30L223.02,94.89M224.90,92.30L221.86,91.31" stroke="#111" stroke-width="1.15" stroke-linecap="round" fill="none"/>
<path d="M224.90,189.50L221.70,189.50M224.90,189.50L223.91,186.46M224.90,189.50L227.49,187.62M224.90,189.50L227.49,191.38M224.90,189.50L223.91,192.54" stroke="#111" stroke-width="1.15" stroke-linecap="round" fill="none"/>
<path d="M224.90,198.20L221.70,198.20M224.90,198.20L223.91,195.16M224.90,198.20L227.49,196.32M224.90,198.20L227.49,200.08M224.90,198.20L223.91,201.24" stroke="#111" stroke-width="1.15" stroke-linecap="round" fill="none"/>
<path d="M224.90,206.30L221.70,206.30M224.90,206.30L223.91,203.26M224.90,206.30L227.49,204.42M224.90,206.30L227.49,208.18M224.90,206.30L223.91,209.34" stroke="#111" stroke-width="1.15" stroke-linecap="round" fill="none"/>
<path d="M287.90,136.70L284.70,136.70M287.90,136.70L286.91,133.66M287.90,136.70L290.49,134.82M287.90,136.70L290.49,138.58M287.90,136.70L286.91,139.74" stroke="#111" stroke-width="1.15" stroke-linecap="round" fill="none"/>
<path d="M287.90,144.70L284.70,144.70M287.90,144.70L286.91,141.66M287.90,144.70L290.49,142.82M287.90,144.70L290.49,146.58M287.90,144.70L286.91,147.74" stroke="#111" stroke-width="1.15" stroke-linecap="round" fill="none"/>
<path d="M287.90,152.80L284.70,152.80M287.90,152.80L286.91,149.76M287.90,152.80L290.49,150.92M287.90,152.80L290.49,154.68M287.90,152.80L286.91,155.84" stroke="#111" stroke-width="1.15" stroke-linecap="round" fill="none"/>
<path d="M288.30,214.20L288.30,211.00M288.30,214.20L291.34,213.21M288.30,214.20L290.18,216.79M288.30,214.20L286.42,216.79M288.30,214.20L285.26,213.21" stroke="#111" stroke-width="1.15" stroke-linecap="round" fill="none"/>
<path d="M284.50,257.50L284.50,254.30M284.50,257.50L287.54,256.51M284.50,257.50L286.38,260.09M284.50,257.50L282.62,260.09M284.50,257.50L281.46,256.51" stroke="#111" stroke-width="1.15" stroke-linecap="round" fill="none"/>
<path d="M292.50,257.50L292.50,254.30M292.50,257.50L295.54,256.51M292.50,257.50L294.38,260.09M292.50,257.50L290.62,260.09M292.50,257.50L289.46,256.51" stroke="#111" stroke-width="1.15" stroke-linecap="round" fill="none"/>
<line x1="51.00" y1="336.50" x2="51.00" y2="554.50" stroke="#111" stroke-width="1.8" />
<line x1="47.80" y1="553.70" x2="51.00" y2="553.70" stroke="#111" stroke-width="1.4" />
<text x="44.7" y="557.8" font-size="11.8" text-anchor="end" font-weight="bold" fill="#111" >0</text>
<line x1="47.80" y1="528.10" x2="51.00" y2="528.10" stroke="#111" stroke-width="1.4" />
<line x1="47.80" y1="500.90" x2="51.00" y2="500.90" stroke="#111" stroke-width="1.4" />
<text x="44.7" y="505.0" font-size="11.8" text-anchor="end" font-weight="bold" fill="#111" >20</text>
<line x1="47.80" y1="473.70" x2="51.00" y2="473.70" stroke="#111" stroke-width="1.4" />
<line x1="47.80" y1="446.50" x2="51.00" y2="446.50" stroke="#111" stroke-width="1.4" />
<text x="44.7" y="450.6" font-size="11.8" text-anchor="end" font-weight="bold" fill="#111" >40</text>
<line x1="47.80" y1="419.30" x2="51.00" y2="419.30" stroke="#111" stroke-width="1.4" />
<line x1="47.80" y1="392.10" x2="51.00" y2="392.10" stroke="#111" stroke-width="1.4" />
<text x="44.7" y="396.2" font-size="11.8" text-anchor="end" font-weight="bold" fill="#111" >60</text>
<line x1="47.80" y1="364.90" x2="51.00" y2="364.90" stroke="#111" stroke-width="1.4" />
<line x1="47.80" y1="337.70" x2="51.00" y2="337.70" stroke="#111" stroke-width="1.4" />
<text x="44.7" y="341.8" font-size="11.8" text-anchor="end" font-weight="bold" fill="#111" >80</text>
<line x1="48.00" y1="553.70" x2="384.06" y2="553.70" stroke="#111" stroke-width="1.8" />
<line x1="58.00" y1="553.70" x2="58.00" y2="556.70" stroke="#111" stroke-width="1.4" />
<line x1="68.40" y1="553.70" x2="68.40" y2="556.70" stroke="#111" stroke-width="1.4" />
<line x1="79.10" y1="553.70" x2="79.10" y2="556.70" stroke="#111" stroke-width="1.4" />
<line x1="98.00" y1="553.70" x2="98.00" y2="556.70" stroke="#111" stroke-width="1.4" />
<line x1="108.78" y1="553.70" x2="108.78" y2="556.70" stroke="#111" stroke-width="1.4" />
<line x1="119.56" y1="553.70" x2="119.56" y2="556.70" stroke="#111" stroke-width="1.4" />
<line x1="130.34" y1="553.70" x2="130.34" y2="556.70" stroke="#111" stroke-width="1.4" />
<line x1="141.12" y1="553.70" x2="141.12" y2="556.70" stroke="#111" stroke-width="1.4" />
<line x1="151.90" y1="553.70" x2="151.90" y2="556.70" stroke="#111" stroke-width="1.4" />
<line x1="162.68" y1="553.70" x2="162.68" y2="556.70" stroke="#111" stroke-width="1.4" />
<line x1="173.46" y1="553.70" x2="173.46" y2="556.70" stroke="#111" stroke-width="1.4" />
<line x1="184.24" y1="553.70" x2="184.24" y2="556.70" stroke="#111" stroke-width="1.4" />
<line x1="195.02" y1="553.70" x2="195.02" y2="556.70" stroke="#111" stroke-width="1.4" />
<line x1="205.80" y1="553.70" x2="205.80" y2="556.70" stroke="#111" stroke-width="1.4" />
<line x1="216.58" y1="553.70" x2="216.58" y2="556.70" stroke="#111" stroke-width="1.4" />
<line x1="227.36" y1="553.70" x2="227.36" y2="556.70" stroke="#111" stroke-width="1.4" />
<line x1="254.50" y1="553.70" x2="254.50" y2="556.70" stroke="#111" stroke-width="1.4" />
<line x1="265.23" y1="553.70" x2="265.23" y2="556.70" stroke="#111" stroke-width="1.4" />
<line x1="275.96" y1="553.70" x2="275.96" y2="556.70" stroke="#111" stroke-width="1.4" />
<line x1="286.69" y1="553.70" x2="286.69" y2="556.70" stroke="#111" stroke-width="1.4" />
<line x1="297.42" y1="553.70" x2="297.42" y2="556.70" stroke="#111" stroke-width="1.4" />
<line x1="308.15" y1="553.70" x2="308.15" y2="556.70" stroke="#111" stroke-width="1.4" />
<line x1="318.88" y1="553.70" x2="318.88" y2="556.70" stroke="#111" stroke-width="1.4" />
<line x1="329.61" y1="553.70" x2="329.61" y2="556.70" stroke="#111" stroke-width="1.4" />
<line x1="340.34" y1="553.70" x2="340.34" y2="556.70" stroke="#111" stroke-width="1.4" />
<line x1="351.07" y1="553.70" x2="351.07" y2="556.70" stroke="#111" stroke-width="1.4" />
<line x1="361.80" y1="553.70" x2="361.80" y2="556.70" stroke="#111" stroke-width="1.4" />
<line x1="372.53" y1="553.70" x2="372.53" y2="556.70" stroke="#111" stroke-width="1.4" />
<line x1="383.26" y1="553.70" x2="383.26" y2="556.70" stroke="#111" stroke-width="1.4" />
<text x="58.3" y="571.2" font-size="11.3" text-anchor="middle" font-weight="bold" fill="#111" >B1</text>
<text x="79.4" y="571.2" font-size="11.3" text-anchor="middle" font-weight="bold" fill="#111" >B3</text>
<text x="98.0" y="571.2" font-size="11.3" text-anchor="middle" font-weight="bold" fill="#111" >1</text>
<text x="254.5" y="571.2" font-size="11.3" text-anchor="middle" font-weight="bold" fill="#111" >1</text>
<text x="119.6" y="571.2" font-size="11.3" text-anchor="middle" font-weight="bold" fill="#111" >3</text>
<text x="276.0" y="571.2" font-size="11.3" text-anchor="middle" font-weight="bold" fill="#111" >3</text>
<text x="141.1" y="571.2" font-size="11.3" text-anchor="middle" font-weight="bold" fill="#111" >5</text>
<text x="297.4" y="571.2" font-size="11.3" text-anchor="middle" font-weight="bold" fill="#111" >5</text>
<text x="162.7" y="571.2" font-size="11.3" text-anchor="middle" font-weight="bold" fill="#111" >7</text>
<text x="318.9" y="571.2" font-size="11.3" text-anchor="middle" font-weight="bold" fill="#111" >7</text>
<text x="184.2" y="571.2" font-size="11.3" text-anchor="middle" font-weight="bold" fill="#111" >9</text>
<text x="340.3" y="571.2" font-size="11.3" text-anchor="middle" font-weight="bold" fill="#111" >9</text>
<text x="205.8" y="571.2" font-size="11.3" text-anchor="middle" font-weight="bold" fill="#111" >11</text>
<text x="361.8" y="571.2" font-size="11.3" text-anchor="middle" font-weight="bold" fill="#111" >11</text>
<text x="227.4" y="571.2" font-size="11.3" text-anchor="middle" font-weight="bold" fill="#111" >13</text>
<text x="383.3" y="571.2" font-size="11.3" text-anchor="middle" font-weight="bold" fill="#111" >13</text>
<text x="68.7" y="586.5" font-size="10.45" text-anchor="middle" font-weight="bold" fill="#111" >Baseline</text>
<text x="172.0" y="586.5" font-size="10.45" text-anchor="middle" font-weight="bold" fill="#111" >Pre-lesion Testing</text>
<text x="337.0" y="586.5" font-size="10.45" text-anchor="middle" font-weight="bold" fill="#111" >Post-lesion Testing</text>
<text x="235.1" y="604.4" font-size="15.2" text-anchor="middle" font-weight="bold" fill="#111" >Days</text>
<line x1="88.60" y1="349.00" x2="88.60" y2="553.70" stroke="#111" stroke-width="1.8" />
<line x1="242.50" y1="349.00" x2="242.50" y2="553.70" stroke="#111" stroke-width="1.8" />
<text x="89.7" y="333.2" font-size="10.2" text-anchor="middle" font-weight="bold" fill="#111" >Start of</text>
<text x="90.0" y="344.1" font-size="10.2" text-anchor="middle" font-weight="bold" fill="#111" >Stress</text>
<text x="245.1" y="333.2" font-size="10.2" text-anchor="middle" font-weight="bold" fill="#111" >Ischemic</text>
<text x="245.1" y="344.1" font-size="10.2" text-anchor="middle" font-weight="bold" fill="#111" >Lesion</text>
<text x="13.8" y="327.3" font-size="19" text-anchor="start" font-weight="bold" fill="#111" >B</text>
<text x="0" y="0" font-size="15.3" text-anchor="middle" font-weight="bold" fill="#111" transform="translate(25.7,444.3) rotate(-90)">Number of Pellets Eaten (%)</text>
<line x1="58.00" y1="388.60" x2="58.00" y2="425.50" stroke="#333" stroke-width="1.05" />
<line x1="55.00" y1="388.60" x2="61.00" y2="388.60" stroke="#333" stroke-width="1.3" />
<line x1="55.00" y1="425.50" x2="61.00" y2="425.50" stroke="#333" stroke-width="1.3" />
<line x1="58.00" y1="397.30" x2="58.00" y2="433.30" stroke="#333" stroke-width="1.05" />
<line x1="55.00" y1="397.30" x2="61.00" y2="397.30" stroke="#333" stroke-width="1.3" />
<line x1="55.00" y1="433.30" x2="61.00" y2="433.30" stroke="#333" stroke-width="1.3" />
<line x1="68.40" y1="386.50" x2="68.40" y2="414.80" stroke="#333" stroke-width="1.05" />
<line x1="65.40" y1="386.50" x2="71.40" y2="386.50" stroke="#333" stroke-width="1.3" />
<line x1="65.40" y1="414.80" x2="71.40" y2="414.80" stroke="#333" stroke-width="1.3" />
<line x1="68.40" y1="397.80" x2="68.40" y2="427.90" stroke="#333" stroke-width="1.05" />
<line x1="65.40" y1="397.80" x2="71.40" y2="397.80" stroke="#333" stroke-width="1.3" />
<line x1="65.40" y1="427.90" x2="71.40" y2="427.90" stroke="#333" stroke-width="1.3" />
<line x1="79.10" y1="376.50" x2="79.10" y2="403.20" stroke="#333" stroke-width="1.05" />
<line x1="76.10" y1="376.50" x2="82.10" y2="376.50" stroke="#333" stroke-width="1.3" />
<line x1="76.10" y1="403.20" x2="82.10" y2="403.20" stroke="#333" stroke-width="1.3" />
<line x1="79.10" y1="394.40" x2="79.10" y2="427.40" stroke="#333" stroke-width="1.05" />
<line x1="76.10" y1="394.40" x2="82.10" y2="394.40" stroke="#333" stroke-width="1.3" />
<line x1="76.10" y1="427.40" x2="82.10" y2="427.40" stroke="#333" stroke-width="1.3" />
<line x1="79.10" y1="399.80" x2="79.10" y2="420.00" stroke="#333" stroke-width="1.05" />
<line x1="76.10" y1="399.80" x2="82.10" y2="399.80" stroke="#333" stroke-width="1.3" />
<line x1="76.10" y1="420.00" x2="82.10" y2="420.00" stroke="#333" stroke-width="1.3" />
<line x1="97.60" y1="386.90" x2="97.60" y2="415.60" stroke="#333" stroke-width="1.05" />
<line x1="94.60" y1="386.90" x2="100.60" y2="386.90" stroke="#333" stroke-width="1.3" />
<line x1="94.60" y1="415.60" x2="100.60" y2="415.60" stroke="#333" stroke-width="1.3" />
<line x1="97.60" y1="451.20" x2="97.60" y2="468.30" stroke="#333" stroke-width="1.05" />
<line x1="94.60" y1="451.20" x2="100.60" y2="451.20" stroke="#333" stroke-width="1.3" />
<line x1="94.60" y1="468.30" x2="100.60" y2="468.30" stroke="#333" stroke-width="1.3" />
<line x1="108.21" y1="399.90" x2="108.21" y2="426.10" stroke="#333" stroke-width="1.05" />
<line x1="105.21" y1="399.90" x2="111.21" y2="399.90" stroke="#333" stroke-width="1.3" />
<line x1="105.21" y1="426.10" x2="111.21" y2="426.10" stroke="#333" stroke-width="1.3" />
<line x1="108.21" y1="408.30" x2="108.21" y2="417.00" stroke="#333" stroke-width="1.05" />
<line x1="105.21" y1="408.30" x2="111.21" y2="408.30" stroke="#333" stroke-width="1.3" />
<line x1="105.21" y1="417.00" x2="111.21" y2="417.00" stroke="#333" stroke-width="1.3" />
<line x1="108.21" y1="426.50" x2="108.21" y2="449.80" stroke="#333" stroke-width="1.05" />
<line x1="105.21" y1="426.50" x2="111.21" y2="426.50" stroke="#333" stroke-width="1.3" />
<line x1="105.21" y1="449.80" x2="111.21" y2="449.80" stroke="#333" stroke-width="1.3" />
<line x1="118.82" y1="375.20" x2="118.82" y2="411.20" stroke="#333" stroke-width="1.05" />
<line x1="115.82" y1="375.20" x2="121.82" y2="375.20" stroke="#333" stroke-width="1.3" />
<line x1="115.82" y1="411.20" x2="121.82" y2="411.20" stroke="#333" stroke-width="1.3" />
<line x1="118.82" y1="385.00" x2="118.82" y2="408.30" stroke="#333" stroke-width="1.05" />
<line x1="115.82" y1="385.00" x2="121.82" y2="385.00" stroke="#333" stroke-width="1.3" />
<line x1="115.82" y1="408.30" x2="121.82" y2="408.30" stroke="#333" stroke-width="1.3" />
<line x1="118.82" y1="454.70" x2="118.82" y2="480.30" stroke="#333" stroke-width="1.05" />
<line x1="115.82" y1="454.70" x2="121.82" y2="454.70" stroke="#333" stroke-width="1.3" />
<line x1="115.82" y1="480.30" x2="121.82" y2="480.30" stroke="#333" stroke-width="1.3" />
<line x1="129.43" y1="380.10" x2="129.43" y2="394.70" stroke="#333" stroke-width="1.05" />
<line x1="126.43" y1="380.10" x2="132.43" y2="380.10" stroke="#333" stroke-width="1.3" />
<line x1="126.43" y1="394.70" x2="132.43" y2="394.70" stroke="#333" stroke-width="1.3" />
<line x1="129.43" y1="391.70" x2="129.43" y2="429.60" stroke="#333" stroke-width="1.05" />
<line x1="126.43" y1="391.70" x2="132.43" y2="391.70" stroke="#333" stroke-width="1.3" />
<line x1="126.43" y1="429.60" x2="132.43" y2="429.60" stroke="#333" stroke-width="1.3" />
<line x1="129.43" y1="445.00" x2="129.43" y2="482.80" stroke="#333" stroke-width="1.05" />
<line x1="126.43" y1="445.00" x2="132.43" y2="445.00" stroke="#333" stroke-width="1.3" />
<line x1="126.43" y1="482.80" x2="132.43" y2="482.80" stroke="#333" stroke-width="1.3" />
<line x1="140.04" y1="361.70" x2="140.04" y2="385.90" stroke="#333" stroke-width="1.05" />
<line x1="137.04" y1="361.70" x2="143.04" y2="361.70" stroke="#333" stroke-width="1.3" />
<line x1="137.04" y1="385.90" x2="143.04" y2="385.90" stroke="#333" stroke-width="1.3" />
<line x1="140.04" y1="384.00" x2="140.04" y2="418.90" stroke="#333" stroke-width="1.05" />
<line x1="137.04" y1="384.00" x2="143.04" y2="384.00" stroke="#333" stroke-width="1.3" />
<line x1="137.04" y1="418.90" x2="143.04" y2="418.90" stroke="#333" stroke-width="1.3" />
<line x1="140.04" y1="418.70" x2="140.04" y2="470.20" stroke="#333" stroke-width="1.05" />
<line x1="137.04" y1="418.70" x2="143.04" y2="418.70" stroke="#333" stroke-width="1.3" />
<line x1="137.04" y1="470.20" x2="143.04" y2="470.20" stroke="#333" stroke-width="1.3" />
<line x1="150.65" y1="370.40" x2="150.65" y2="389.80" stroke="#333" stroke-width="1.05" />
<line x1="147.65" y1="370.40" x2="153.65" y2="370.40" stroke="#333" stroke-width="1.3" />
<line x1="147.65" y1="389.80" x2="153.65" y2="389.80" stroke="#333" stroke-width="1.3" />
<line x1="150.65" y1="390.80" x2="150.65" y2="418.90" stroke="#333" stroke-width="1.05" />
<line x1="147.65" y1="390.80" x2="153.65" y2="390.80" stroke="#333" stroke-width="1.3" />
<line x1="147.65" y1="418.90" x2="153.65" y2="418.90" stroke="#333" stroke-width="1.3" />
<line x1="150.65" y1="452.30" x2="150.65" y2="486.30" stroke="#333" stroke-width="1.05" />
<line x1="147.65" y1="452.30" x2="153.65" y2="452.30" stroke="#333" stroke-width="1.3" />
<line x1="147.65" y1="486.30" x2="153.65" y2="486.30" stroke="#333" stroke-width="1.3" />
<line x1="161.26" y1="373.90" x2="161.26" y2="399.00" stroke="#333" stroke-width="1.05" />
<line x1="158.26" y1="373.90" x2="164.26" y2="373.90" stroke="#333" stroke-width="1.3" />
<line x1="158.26" y1="399.00" x2="164.26" y2="399.00" stroke="#333" stroke-width="1.3" />
<line x1="161.26" y1="380.00" x2="161.26" y2="396.60" stroke="#333" stroke-width="1.05" />
<line x1="158.26" y1="380.00" x2="164.26" y2="380.00" stroke="#333" stroke-width="1.3" />
<line x1="158.26" y1="396.60" x2="164.26" y2="396.60" stroke="#333" stroke-width="1.3" />
<line x1="161.26" y1="439.60" x2="161.26" y2="471.80" stroke="#333" stroke-width="1.05" />
<line x1="158.26" y1="439.60" x2="164.26" y2="439.60" stroke="#333" stroke-width="1.3" />
<line x1="158.26" y1="471.80" x2="164.26" y2="471.80" stroke="#333" stroke-width="1.3" />
<line x1="171.87" y1="361.40" x2="171.87" y2="391.30" stroke="#333" stroke-width="1.05" />
<line x1="168.87" y1="361.40" x2="174.87" y2="361.40" stroke="#333" stroke-width="1.3" />
<line x1="168.87" y1="391.30" x2="174.87" y2="391.30" stroke="#333" stroke-width="1.3" />
<line x1="171.87" y1="385.90" x2="171.87" y2="424.10" stroke="#333" stroke-width="1.05" />
<line x1="168.87" y1="385.90" x2="174.87" y2="385.90" stroke="#333" stroke-width="1.3" />
<line x1="168.87" y1="424.10" x2="174.87" y2="424.10" stroke="#333" stroke-width="1.3" />
<line x1="171.87" y1="461.30" x2="171.87" y2="485.40" stroke="#333" stroke-width="1.05" />
<line x1="168.87" y1="461.30" x2="174.87" y2="461.30" stroke="#333" stroke-width="1.3" />
<line x1="168.87" y1="485.40" x2="174.87" y2="485.40" stroke="#333" stroke-width="1.3" />
<line x1="182.48" y1="350.30" x2="182.48" y2="381.50" stroke="#333" stroke-width="1.05" />
<line x1="179.48" y1="350.30" x2="185.48" y2="350.30" stroke="#333" stroke-width="1.3" />
<line x1="179.48" y1="381.50" x2="185.48" y2="381.50" stroke="#333" stroke-width="1.3" />
<line x1="182.48" y1="401.20" x2="182.48" y2="437.20" stroke="#333" stroke-width="1.05" />
<line x1="179.48" y1="401.20" x2="185.48" y2="401.20" stroke="#333" stroke-width="1.3" />
<line x1="179.48" y1="437.20" x2="185.48" y2="437.20" stroke="#333" stroke-width="1.3" />
<line x1="182.48" y1="451.50" x2="182.48" y2="487.10" stroke="#333" stroke-width="1.05" />
<line x1="179.48" y1="451.50" x2="185.48" y2="451.50" stroke="#333" stroke-width="1.3" />
<line x1="179.48" y1="487.10" x2="185.48" y2="487.10" stroke="#333" stroke-width="1.3" />
<line x1="193.09" y1="361.80" x2="193.09" y2="390.70" stroke="#333" stroke-width="1.05" />
<line x1="190.09" y1="361.80" x2="196.09" y2="361.80" stroke="#333" stroke-width="1.3" />
<line x1="190.09" y1="390.70" x2="196.09" y2="390.70" stroke="#333" stroke-width="1.3" />
<line x1="193.09" y1="403.30" x2="193.09" y2="429.60" stroke="#333" stroke-width="1.05" />
<line x1="190.09" y1="403.30" x2="196.09" y2="403.30" stroke="#333" stroke-width="1.3" />
<line x1="190.09" y1="429.60" x2="196.09" y2="429.60" stroke="#333" stroke-width="1.3" />
<line x1="193.09" y1="455.90" x2="193.09" y2="479.50" stroke="#333" stroke-width="1.05" />
<line x1="190.09" y1="455.90" x2="196.09" y2="455.90" stroke="#333" stroke-width="1.3" />
<line x1="190.09" y1="479.50" x2="196.09" y2="479.50" stroke="#333" stroke-width="1.3" />
<line x1="203.70" y1="348.30" x2="203.70" y2="365.10" stroke="#333" stroke-width="1.05" />
<line x1="200.70" y1="348.30" x2="206.70" y2="348.30" stroke="#333" stroke-width="1.3" />
<line x1="200.70" y1="365.10" x2="206.70" y2="365.10" stroke="#333" stroke-width="1.3" />
<line x1="203.70" y1="407.70" x2="203.70" y2="436.10" stroke="#333" stroke-width="1.05" />
<line x1="200.70" y1="407.70" x2="206.70" y2="407.70" stroke="#333" stroke-width="1.3" />
<line x1="200.70" y1="436.10" x2="206.70" y2="436.10" stroke="#333" stroke-width="1.3" />
<line x1="203.70" y1="422.00" x2="203.70" y2="446.00" stroke="#333" stroke-width="1.05" />
<line x1="200.70" y1="422.00" x2="206.70" y2="422.00" stroke="#333" stroke-width="1.3" />
<line x1="200.70" y1="446.00" x2="206.70" y2="446.00" stroke="#333" stroke-width="1.3" />
<line x1="214.31" y1="354.60" x2="214.31" y2="385.90" stroke="#333" stroke-width="1.05" />
<line x1="211.31" y1="354.60" x2="217.31" y2="354.60" stroke="#333" stroke-width="1.3" />
<line x1="211.31" y1="385.90" x2="217.31" y2="385.90" stroke="#333" stroke-width="1.3" />
<line x1="214.31" y1="387.00" x2="214.31" y2="429.60" stroke="#333" stroke-width="1.05" />
<line x1="211.31" y1="387.00" x2="217.31" y2="387.00" stroke="#333" stroke-width="1.3" />
<line x1="211.31" y1="429.60" x2="217.31" y2="429.60" stroke="#333" stroke-width="1.3" />
<line x1="214.31" y1="454.80" x2="214.31" y2="488.00" stroke="#333" stroke-width="1.05" />
<line x1="211.31" y1="454.80" x2="217.31" y2="454.80" stroke="#333" stroke-width="1.3" />
<line x1="211.31" y1="488.00" x2="217.31" y2="488.00" stroke="#333" stroke-width="1.3" />
<line x1="224.92" y1="360.30" x2="224.92" y2="382.60" stroke="#333" stroke-width="1.05" />
<line x1="221.92" y1="360.30" x2="227.92" y2="360.30" stroke="#333" stroke-width="1.3" />
<line x1="221.92" y1="382.60" x2="227.92" y2="382.60" stroke="#333" stroke-width="1.3" />
<line x1="224.92" y1="376.00" x2="224.92" y2="404.90" stroke="#333" stroke-width="1.05" />
<line x1="221.92" y1="376.00" x2="227.92" y2="376.00" stroke="#333" stroke-width="1.3" />
<line x1="221.92" y1="404.90" x2="227.92" y2="404.90" stroke="#333" stroke-width="1.3" />
<line x1="224.92" y1="431.80" x2="224.92" y2="468.50" stroke="#333" stroke-width="1.05" />
<line x1="221.92" y1="431.80" x2="227.92" y2="431.80" stroke="#333" stroke-width="1.3" />
<line x1="221.92" y1="468.50" x2="227.92" y2="468.50" stroke="#333" stroke-width="1.3" />
<line x1="254.50" y1="488.30" x2="254.50" y2="522.10" stroke="#333" stroke-width="1.05" />
<line x1="251.50" y1="488.30" x2="257.50" y2="488.30" stroke="#333" stroke-width="1.3" />
<line x1="251.50" y1="522.10" x2="257.50" y2="522.10" stroke="#333" stroke-width="1.3" />
<line x1="254.50" y1="532.20" x2="254.50" y2="546.00" stroke="#333" stroke-width="1.05" />
<line x1="251.50" y1="532.20" x2="257.50" y2="532.20" stroke="#333" stroke-width="1.3" />
<line x1="251.50" y1="546.00" x2="257.50" y2="546.00" stroke="#333" stroke-width="1.3" />
<line x1="265.10" y1="470.10" x2="265.10" y2="510.90" stroke="#333" stroke-width="1.05" />
<line x1="262.10" y1="470.10" x2="268.10" y2="470.10" stroke="#333" stroke-width="1.3" />
<line x1="262.10" y1="510.90" x2="268.10" y2="510.90" stroke="#333" stroke-width="1.3" />
<line x1="265.10" y1="509.70" x2="265.10" y2="538.80" stroke="#333" stroke-width="1.05" />
<line x1="262.10" y1="509.70" x2="268.10" y2="509.70" stroke="#333" stroke-width="1.3" />
<line x1="262.10" y1="538.80" x2="268.10" y2="538.80" stroke="#333" stroke-width="1.3" />
<line x1="275.70" y1="417.10" x2="275.70" y2="472.80" stroke="#333" stroke-width="1.05" />
<line x1="272.70" y1="417.10" x2="278.70" y2="417.10" stroke="#333" stroke-width="1.3" />
<line x1="272.70" y1="472.80" x2="278.70" y2="472.80" stroke="#333" stroke-width="1.3" />
<line x1="275.70" y1="486.00" x2="275.70" y2="520.70" stroke="#333" stroke-width="1.05" />
<line x1="272.70" y1="486.00" x2="278.70" y2="486.00" stroke="#333" stroke-width="1.3" />
<line x1="272.70" y1="520.70" x2="278.70" y2="520.70" stroke="#333" stroke-width="1.3" />
<line x1="275.70" y1="492.70" x2="275.70" y2="537.50" stroke="#333" stroke-width="1.05" />
<line x1="272.70" y1="492.70" x2="278.70" y2="492.70" stroke="#333" stroke-width="1.3" />
<line x1="272.70" y1="537.50" x2="278.70" y2="537.50" stroke="#333" stroke-width="1.3" />
<line x1="286.30" y1="429.50" x2="286.30" y2="460.80" stroke="#333" stroke-width="1.05" />
<line x1="283.30" y1="429.50" x2="289.30" y2="429.50" stroke="#333" stroke-width="1.3" />
<line x1="283.30" y1="460.80" x2="289.30" y2="460.80" stroke="#333" stroke-width="1.3" />
<line x1="286.30" y1="475.90" x2="286.30" y2="530.80" stroke="#333" stroke-width="1.05" />
<line x1="283.30" y1="475.90" x2="289.30" y2="475.90" stroke="#333" stroke-width="1.3" />
<line x1="283.30" y1="530.80" x2="289.30" y2="530.80" stroke="#333" stroke-width="1.3" />
<line x1="296.90" y1="424.90" x2="296.90" y2="449.50" stroke="#333" stroke-width="1.05" />
<line x1="293.90" y1="424.90" x2="299.90" y2="424.90" stroke="#333" stroke-width="1.3" />
<line x1="293.90" y1="449.50" x2="299.90" y2="449.50" stroke="#333" stroke-width="1.3" />
<line x1="296.90" y1="458.30" x2="296.90" y2="499.20" stroke="#333" stroke-width="1.05" />
<line x1="293.90" y1="458.30" x2="299.90" y2="458.30" stroke="#333" stroke-width="1.3" />
<line x1="293.90" y1="499.20" x2="299.90" y2="499.20" stroke="#333" stroke-width="1.3" />
<line x1="307.50" y1="413.20" x2="307.50" y2="434.00" stroke="#333" stroke-width="1.05" />
<line x1="304.50" y1="413.20" x2="310.50" y2="413.20" stroke="#333" stroke-width="1.3" />
<line x1="304.50" y1="434.00" x2="310.50" y2="434.00" stroke="#333" stroke-width="1.3" />
<line x1="307.50" y1="480.20" x2="307.50" y2="516.10" stroke="#333" stroke-width="1.05" />
<line x1="304.50" y1="480.20" x2="310.50" y2="480.20" stroke="#333" stroke-width="1.3" />
<line x1="304.50" y1="516.10" x2="310.50" y2="516.10" stroke="#333" stroke-width="1.3" />
<line x1="318.10" y1="408.70" x2="318.10" y2="446.00" stroke="#333" stroke-width="1.05" />
<line x1="315.10" y1="408.70" x2="321.10" y2="408.70" stroke="#333" stroke-width="1.3" />
<line x1="315.10" y1="446.00" x2="321.10" y2="446.00" stroke="#333" stroke-width="1.3" />
<line x1="318.10" y1="478.00" x2="318.10" y2="510.00" stroke="#333" stroke-width="1.05" />
<line x1="315.10" y1="478.00" x2="321.10" y2="478.00" stroke="#333" stroke-width="1.3" />
<line x1="315.10" y1="510.00" x2="321.10" y2="510.00" stroke="#333" stroke-width="1.3" />
<line x1="328.70" y1="436.90" x2="328.70" y2="463.10" stroke="#333" stroke-width="1.05" />
<line x1="325.70" y1="436.90" x2="331.70" y2="436.90" stroke="#333" stroke-width="1.3" />
<line x1="325.70" y1="463.10" x2="331.70" y2="463.10" stroke="#333" stroke-width="1.3" />
<line x1="328.70" y1="479.90" x2="328.70" y2="514.90" stroke="#333" stroke-width="1.05" />
<line x1="325.70" y1="479.90" x2="331.70" y2="479.90" stroke="#333" stroke-width="1.3" />
<line x1="325.70" y1="514.90" x2="331.70" y2="514.90" stroke="#333" stroke-width="1.3" />
<line x1="339.30" y1="434.30" x2="339.30" y2="483.40" stroke="#333" stroke-width="1.05" />
<line x1="336.30" y1="434.30" x2="342.30" y2="434.30" stroke="#333" stroke-width="1.3" />
<line x1="336.30" y1="483.40" x2="342.30" y2="483.40" stroke="#333" stroke-width="1.3" />
<line x1="339.30" y1="499.30" x2="339.30" y2="518.70" stroke="#333" stroke-width="1.05" />
<line x1="336.30" y1="499.30" x2="342.30" y2="499.30" stroke="#333" stroke-width="1.3" />
<line x1="336.30" y1="518.70" x2="342.30" y2="518.70" stroke="#333" stroke-width="1.3" />
<line x1="349.90" y1="417.40" x2="349.90" y2="466.30" stroke="#333" stroke-width="1.05" />
<line x1="346.90" y1="417.40" x2="352.90" y2="417.40" stroke="#333" stroke-width="1.3" />
<line x1="346.90" y1="466.30" x2="352.90" y2="466.30" stroke="#333" stroke-width="1.3" />
<line x1="349.90" y1="427.90" x2="349.90" y2="493.50" stroke="#333" stroke-width="1.05" />
<line x1="346.90" y1="427.90" x2="352.90" y2="427.90" stroke="#333" stroke-width="1.3" />
<line x1="346.90" y1="493.50" x2="352.90" y2="493.50" stroke="#333" stroke-width="1.3" />
<line x1="349.90" y1="480.00" x2="349.90" y2="513.90" stroke="#333" stroke-width="1.05" />
<line x1="346.90" y1="480.00" x2="352.90" y2="480.00" stroke="#333" stroke-width="1.3" />
<line x1="346.90" y1="513.90" x2="352.90" y2="513.90" stroke="#333" stroke-width="1.3" />
<line x1="360.50" y1="436.20" x2="360.50" y2="468.30" stroke="#333" stroke-width="1.05" />
<line x1="357.50" y1="436.20" x2="363.50" y2="436.20" stroke="#333" stroke-width="1.3" />
<line x1="357.50" y1="468.30" x2="363.50" y2="468.30" stroke="#333" stroke-width="1.3" />
<line x1="360.50" y1="441.10" x2="360.50" y2="477.60" stroke="#333" stroke-width="1.05" />
<line x1="357.50" y1="441.10" x2="363.50" y2="441.10" stroke="#333" stroke-width="1.3" />
<line x1="357.50" y1="477.60" x2="363.50" y2="477.60" stroke="#333" stroke-width="1.3" />
<line x1="371.10" y1="424.60" x2="371.10" y2="474.10" stroke="#333" stroke-width="1.05" />
<line x1="368.10" y1="424.60" x2="374.10" y2="424.60" stroke="#333" stroke-width="1.3" />
<line x1="368.10" y1="474.10" x2="374.10" y2="474.10" stroke="#333" stroke-width="1.3" />
<line x1="371.10" y1="429.40" x2="371.10" y2="481.80" stroke="#333" stroke-width="1.05" />
<line x1="368.10" y1="429.40" x2="374.10" y2="429.40" stroke="#333" stroke-width="1.3" />
<line x1="368.10" y1="481.80" x2="374.10" y2="481.80" stroke="#333" stroke-width="1.3" />
<line x1="381.70" y1="415.40" x2="381.70" y2="439.50" stroke="#333" stroke-width="1.05" />
<line x1="378.70" y1="415.40" x2="384.70" y2="415.40" stroke="#333" stroke-width="1.3" />
<line x1="378.70" y1="439.50" x2="384.70" y2="439.50" stroke="#333" stroke-width="1.3" />
<line x1="381.70" y1="445.50" x2="381.70" y2="498.30" stroke="#333" stroke-width="1.05" />
<line x1="378.70" y1="445.50" x2="384.70" y2="445.50" stroke="#333" stroke-width="1.3" />
<line x1="378.70" y1="498.30" x2="384.70" y2="498.30" stroke="#333" stroke-width="1.3" />
<polyline points="58.00,411.40 68.40,403.20 79.10,389.40" fill="none" stroke="#111" stroke-width="1.8" stroke-linejoin="miter"/>
<polyline points="97.60,401.50 108.21,421.80 118.82,390.80 129.43,386.50 140.04,374.30 150.65,379.10 161.26,383.80 171.87,375.00 182.48,366.60 193.09,373.90 203.70,357.90 214.31,369.50 224.92,372.10" fill="none" stroke="#111" stroke-width="1.8" stroke-linejoin="miter"/>
<polyline points="254.50,503.90 265.10,489.00 275.70,445.00 286.30,444.80 296.90,437.00 307.50,423.10 318.10,428.40 328.70,450.80 339.30,450.40 349.90,439.50 360.50,451.20 371.10,445.50 381.70,427.50" fill="none" stroke="#111" stroke-width="1.8" stroke-linejoin="miter"/>
<polyline points="58.00,403.60 68.40,419.70 79.10,408.50" fill="none" stroke="#111" stroke-width="1.9" stroke-linejoin="miter"/>
<polyline points="97.60,401.50 108.21,410.60 118.82,395.00 129.43,410.20 140.04,400.90 150.65,404.40 161.26,389.00 171.87,404.90 182.48,417.50 193.09,416.50 203.70,421.90 214.31,408.80 224.92,390.20" fill="none" stroke="#111" stroke-width="1.9" stroke-linejoin="miter"/>
<polyline points="254.50,547.50 265.10,522.50 275.70,503.50 286.30,492.10 296.90,477.00 307.50,488.00 318.10,491.60 328.70,488.60 339.30,467.30 349.90,502.20 360.50,463.40 371.10,463.40 381.70,478.00" fill="none" stroke="#111" stroke-width="1.9" stroke-linejoin="miter"/>
<polyline points="58.00,419.20 68.40,408.50 79.10,411.40" fill="none" stroke="#9a9a9a" stroke-width="1.8" stroke-linejoin="miter"/>
<polyline points="97.60,458.50 108.21,440.10 118.82,466.70 129.43,462.80 140.04,444.40 150.65,467.90 161.26,455.80 171.87,473.30 182.48,468.50 193.09,466.80 203.70,434.50 214.31,470.70 224.92,449.80" fill="none" stroke="#9a9a9a" stroke-width="1.8" stroke-linejoin="miter"/>
<polyline points="254.50,539.40 265.10,532.50 275.70,515.00 286.30,510.20 296.90,475.00 307.50,502.50 318.10,492.70 328.70,502.80 339.30,508.00 349.90,447.30 360.50,453.70 371.10,455.60 381.70,451.70" fill="none" stroke="#9a9a9a" stroke-width="1.8" stroke-linejoin="miter"/>
<polygon points="58.00,408.50 60.90,413.43 55.10,413.43" fill="#fff" stroke="#111" stroke-width="1.0"/>
<polygon points="68.40,400.30 71.30,405.23 65.50,405.23" fill="#fff" stroke="#111" stroke-width="1.0"/>
<polygon points="79.10,386.50 82.00,391.43 76.20,391.43" fill="#fff" stroke="#111" stroke-width="1.0"/>
<polygon points="97.60,398.60 100.50,403.53 94.70,403.53" fill="#fff" stroke="#111" stroke-width="1.0"/>
<polygon points="108.21,418.90 111.11,423.83 105.31,423.83" fill="#fff" stroke="#111" stroke-width="1.0"/>
<polygon points="118.82,387.90 121.72,392.83 115.92,392.83" fill="#fff" stroke="#111" stroke-width="1.0"/>
<polygon points="129.43,383.60 132.33,388.53 126.53,388.53" fill="#fff" stroke="#111" stroke-width="1.0"/>
<polygon points="140.04,371.40 142.94,376.33 137.14,376.33" fill="#fff" stroke="#111" stroke-width="1.0"/>
<polygon points="150.65,376.20 153.55,381.13 147.75,381.13" fill="#fff" stroke="#111" stroke-width="1.0"/>
<polygon points="161.26,380.90 164.16,385.83 158.36,385.83" fill="#fff" stroke="#111" stroke-width="1.0"/>
<polygon points="171.87,372.10 174.77,377.03 168.97,377.03" fill="#fff" stroke="#111" stroke-width="1.0"/>
<polygon points="182.48,363.70 185.38,368.63 179.58,368.63" fill="#fff" stroke="#111" stroke-width="1.0"/>
<polygon points="193.09,371.00 195.99,375.93 190.19,375.93" fill="#fff" stroke="#111" stroke-width="1.0"/>
<polygon points="203.70,355.00 206.60,359.93 200.80,359.93" fill="#fff" stroke="#111" stroke-width="1.0"/>
<polygon points="214.31,366.60 217.21,371.53 211.41,371.53" fill="#fff" stroke="#111" stroke-width="1.0"/>
<polygon points="224.92,369.20 227.82,374.13 222.02,374.13" fill="#fff" stroke="#111" stroke-width="1.0"/>
<polygon points="254.50,501.00 257.40,505.93 251.60,505.93" fill="#fff" stroke="#111" stroke-width="1.0"/>
<polygon points="265.10,486.10 268.00,491.03 262.20,491.03" fill="#fff" stroke="#111" stroke-width="1.0"/>
<polygon points="275.70,442.10 278.60,447.03 272.80,447.03" fill="#fff" stroke="#111" stroke-width="1.0"/>
<polygon points="286.30,441.90 289.20,446.83 283.40,446.83" fill="#fff" stroke="#111" stroke-width="1.0"/>
<polygon points="296.90,434.10 299.80,439.03 294.00,439.03" fill="#fff" stroke="#111" stroke-width="1.0"/>
<polygon points="307.50,420.20 310.40,425.13 304.60,425.13" fill="#fff" stroke="#111" stroke-width="1.0"/>
<polygon points="318.10,425.50 321.00,430.43 315.20,430.43" fill="#fff" stroke="#111" stroke-width="1.0"/>
<polygon points="328.70,447.90 331.60,452.83 325.80,452.83" fill="#fff" stroke="#111" stroke-width="1.0"/>
<polygon points="339.30,447.50 342.20,452.43 336.40,452.43" fill="#fff" stroke="#111" stroke-width="1.0"/>
<polygon points="349.90,436.60 352.80,441.53 347.00,441.53" fill="#fff" stroke="#111" stroke-width="1.0"/>
<polygon points="360.50,448.30 363.40,453.23 357.60,453.23" fill="#fff" stroke="#111" stroke-width="1.0"/>
<polygon points="371.10,442.60 374.00,447.53 368.20,447.53" fill="#fff" stroke="#111" stroke-width="1.0"/>
<polygon points="381.70,424.60 384.60,429.53 378.80,429.53" fill="#fff" stroke="#111" stroke-width="1.0"/>
<polygon points="58.00,399.80 61.80,403.60 58.00,407.40 54.20,403.60" fill="#111"/>
<polygon points="68.40,415.90 72.20,419.70 68.40,423.50 64.60,419.70" fill="#111"/>
<polygon points="79.10,404.70 82.90,408.50 79.10,412.30 75.30,408.50" fill="#111"/>
<polygon points="97.60,397.70 101.40,401.50 97.60,405.30 93.80,401.50" fill="#111"/>
<polygon points="108.21,406.80 112.01,410.60 108.21,414.40 104.41,410.60" fill="#111"/>
<polygon points="118.82,391.20 122.62,395.00 118.82,398.80 115.02,395.00" fill="#111"/>
<polygon points="129.43,406.40 133.23,410.20 129.43,414.00 125.63,410.20" fill="#111"/>
<polygon points="140.04,397.10 143.84,400.90 140.04,404.70 136.24,400.90" fill="#111"/>
<polygon points="150.65,400.60 154.45,404.40 150.65,408.20 146.85,404.40" fill="#111"/>
<polygon points="161.26,385.20 165.06,389.00 161.26,392.80 157.46,389.00" fill="#111"/>
<polygon points="171.87,401.10 175.67,404.90 171.87,408.70 168.07,404.90" fill="#111"/>
<polygon points="182.48,413.70 186.28,417.50 182.48,421.30 178.68,417.50" fill="#111"/>
<polygon points="193.09,412.70 196.89,416.50 193.09,420.30 189.29,416.50" fill="#111"/>
<polygon points="203.70,418.10 207.50,421.90 203.70,425.70 199.90,421.90" fill="#111"/>
<polygon points="214.31,405.00 218.11,408.80 214.31,412.60 210.51,408.80" fill="#111"/>
<polygon points="224.92,386.40 228.72,390.20 224.92,394.00 221.12,390.20" fill="#111"/>
<polygon points="254.50,543.70 258.30,547.50 254.50,551.30 250.70,547.50" fill="#111"/>
<polygon points="265.10,518.70 268.90,522.50 265.10,526.30 261.30,522.50" fill="#111"/>
<polygon points="275.70,499.70 279.50,503.50 275.70,507.30 271.90,503.50" fill="#111"/>
<polygon points="286.30,488.30 290.10,492.10 286.30,495.90 282.50,492.10" fill="#111"/>
<polygon points="296.90,473.20 300.70,477.00 296.90,480.80 293.10,477.00" fill="#111"/>
<polygon points="307.50,484.20 311.30,488.00 307.50,491.80 303.70,488.00" fill="#111"/>
<polygon points="318.10,487.80 321.90,491.60 318.10,495.40 314.30,491.60" fill="#111"/>
<polygon points="328.70,484.80 332.50,488.60 328.70,492.40 324.90,488.60" fill="#111"/>
<polygon points="339.30,463.50 343.10,467.30 339.30,471.10 335.50,467.30" fill="#111"/>
<polygon points="349.90,498.40 353.70,502.20 349.90,506.00 346.10,502.20" fill="#111"/>
<polygon points="360.50,459.60 364.30,463.40 360.50,467.20 356.70,463.40" fill="#111"/>
<polygon points="371.10,459.60 374.90,463.40 371.10,467.20 367.30,463.40" fill="#111"/>
<polygon points="381.70,474.20 385.50,478.00 381.70,481.80 377.90,478.00" fill="#111"/>
<rect x="55.20" y="416.40" width="5.60" height="5.60" fill="#9a9a9a"/>
<rect x="65.60" y="405.70" width="5.60" height="5.60" fill="#9a9a9a"/>
<rect x="76.30" y="408.60" width="5.60" height="5.60" fill="#9a9a9a"/>
<rect x="94.80" y="455.70" width="5.60" height="5.60" fill="#9a9a9a"/>
<rect x="105.41" y="437.30" width="5.60" height="5.60" fill="#9a9a9a"/>
<rect x="116.02" y="463.90" width="5.60" height="5.60" fill="#9a9a9a"/>
<rect x="126.63" y="460.00" width="5.60" height="5.60" fill="#9a9a9a"/>
<rect x="137.24" y="441.60" width="5.60" height="5.60" fill="#9a9a9a"/>
<rect x="147.85" y="465.10" width="5.60" height="5.60" fill="#9a9a9a"/>
<rect x="158.46" y="453.00" width="5.60" height="5.60" fill="#9a9a9a"/>
<rect x="169.07" y="470.50" width="5.60" height="5.60" fill="#9a9a9a"/>
<rect x="179.68" y="465.70" width="5.60" height="5.60" fill="#9a9a9a"/>
<rect x="190.29" y="464.00" width="5.60" height="5.60" fill="#9a9a9a"/>
<rect x="200.90" y="431.70" width="5.60" height="5.60" fill="#9a9a9a"/>
<rect x="211.51" y="467.90" width="5.60" height="5.60" fill="#9a9a9a"/>
<rect x="222.12" y="447.00" width="5.60" height="5.60" fill="#9a9a9a"/>
<rect x="251.70" y="536.60" width="5.60" height="5.60" fill="#9a9a9a"/>
<rect x="262.30" y="529.70" width="5.60" height="5.60" fill="#9a9a9a"/>
<rect x="272.90" y="512.20" width="5.60" height="5.60" fill="#9a9a9a"/>
<rect x="283.50" y="507.40" width="5.60" height="5.60" fill="#9a9a9a"/>
<rect x="294.10" y="472.20" width="5.60" height="5.60" fill="#9a9a9a"/>
<rect x="304.70" y="499.70" width="5.60" height="5.60" fill="#9a9a9a"/>
<rect x="315.30" y="489.90" width="5.60" height="5.60" fill="#9a9a9a"/>
<rect x="325.90" y="500.00" width="5.60" height="5.60" fill="#9a9a9a"/>
<rect x="336.50" y="505.20" width="5.60" height="5.60" fill="#9a9a9a"/>
<rect x="347.10" y="444.50" width="5.60" height="5.60" fill="#9a9a9a"/>
<rect x="357.70" y="450.90" width="5.60" height="5.60" fill="#9a9a9a"/>
<rect x="368.30" y="452.80" width="5.60" height="5.60" fill="#9a9a9a"/>
<rect x="378.90" y="448.90" width="5.60" height="5.60" fill="#9a9a9a"/>
<path d="M224.90,416.90L221.70,416.90M224.90,416.90L223.91,413.86M224.90,416.90L227.49,415.02M224.90,416.90L227.49,418.78M224.90,416.90L223.91,419.94" stroke="#111" stroke-width="1.15" stroke-linecap="round" fill="none"/>
<path d="M224.90,425.20L221.70,425.20M224.90,425.20L223.91,422.16M224.90,425.20L227.49,423.32M224.90,425.20L227.49,427.08M224.90,425.20L223.91,428.24" stroke="#111" stroke-width="1.15" stroke-linecap="round" fill="none"/>
<text x="0" y="0" font-size="13" text-anchor="middle" fill="#111" transform="translate(225.30,474.80) rotate(-90)" dy="4.6">#</text>
<text x="0" y="0" font-size="13" text-anchor="middle" fill="#111" transform="translate(225.30,484.70) rotate(-90)" dy="4.6">#</text>
<path d="M254.50,472.50L251.30,472.50M254.50,472.50L253.51,469.46M254.50,472.50L257.09,470.62M254.50,472.50L257.09,474.38M254.50,472.50L253.51,475.54" stroke="#111" stroke-width="1.15" stroke-linecap="round" fill="none"/>
<path d="M254.50,481.30L251.30,481.30M254.50,481.30L253.51,478.26M254.50,481.30L257.09,479.42M254.50,481.30L257.09,483.18M254.50,481.30L253.51,484.34" stroke="#111" stroke-width="1.15" stroke-linecap="round" fill="none"/>
<path d="M254.50,526.60L251.30,526.60M254.50,526.60L253.51,523.56M254.50,526.60L257.09,524.72M254.50,526.60L257.09,528.48M254.50,526.60L253.51,529.64" stroke="#111" stroke-width="1.15" stroke-linecap="round" fill="none"/>
<path d="M265.00,548.10L265.00,544.90M265.00,548.10L268.04,547.11M265.00,548.10L266.88,550.69M265.00,548.10L263.12,550.69M265.00,548.10L261.96,547.11" stroke="#111" stroke-width="1.15" stroke-linecap="round" fill="none"/>
<path d="M273.30,548.10L273.30,544.90M273.30,548.10L276.34,547.11M273.30,548.10L275.18,550.69M273.30,548.10L271.42,550.69M273.30,548.10L270.26,547.11" stroke="#111" stroke-width="1.15" stroke-linecap="round" fill="none"/>
<text x="0" y="0" font-size="13" text-anchor="middle" fill="#111" transform="translate(287.70,537.40) rotate(-90)" dy="4.6">#</text>
<line x1="49.50" y1="631.20" x2="49.50" y2="869.30" stroke="#111" stroke-width="1.8" />
<line x1="46.30" y1="868.50" x2="49.50" y2="868.50" stroke="#111" stroke-width="1.4" />
<text x="43.3" y="872.8" font-size="12.2" text-anchor="end" font-weight="bold" fill="#111" >0</text>
<line x1="46.30" y1="839.39" x2="49.50" y2="839.39" stroke="#111" stroke-width="1.4" />
<line x1="46.30" y1="809.72" x2="49.50" y2="809.72" stroke="#111" stroke-width="1.4" />
<text x="43.3" y="814.0" font-size="12.2" text-anchor="end" font-weight="bold" fill="#111" >20</text>
<line x1="46.30" y1="780.05" x2="49.50" y2="780.05" stroke="#111" stroke-width="1.4" />
<line x1="46.30" y1="750.38" x2="49.50" y2="750.38" stroke="#111" stroke-width="1.4" />
<text x="43.3" y="754.7" font-size="12.2" text-anchor="end" font-weight="bold" fill="#111" >40</text>
<line x1="46.30" y1="720.71" x2="49.50" y2="720.71" stroke="#111" stroke-width="1.4" />
<line x1="46.30" y1="691.04" x2="49.50" y2="691.04" stroke="#111" stroke-width="1.4" />
<text x="43.3" y="695.3" font-size="12.2" text-anchor="end" font-weight="bold" fill="#111" >60</text>
<line x1="46.30" y1="661.37" x2="49.50" y2="661.37" stroke="#111" stroke-width="1.4" />
<line x1="46.30" y1="631.70" x2="49.50" y2="631.70" stroke="#111" stroke-width="1.4" />
<text x="43.3" y="636.0" font-size="12.2" text-anchor="end" font-weight="bold" fill="#111" >80</text>
<line x1="46.50" y1="868.50" x2="383.14" y2="868.50" stroke="#111" stroke-width="1.8" />
<line x1="55.30" y1="868.50" x2="55.30" y2="871.50" stroke="#111" stroke-width="1.4" />
<line x1="66.40" y1="868.50" x2="66.40" y2="871.50" stroke="#111" stroke-width="1.4" />
<line x1="77.50" y1="868.50" x2="77.50" y2="871.50" stroke="#111" stroke-width="1.4" />
<line x1="93.40" y1="868.50" x2="93.40" y2="871.50" stroke="#111" stroke-width="1.4" />
<line x1="104.41" y1="868.50" x2="104.41" y2="871.50" stroke="#111" stroke-width="1.4" />
<line x1="115.42" y1="868.50" x2="115.42" y2="871.50" stroke="#111" stroke-width="1.4" />
<line x1="126.43" y1="868.50" x2="126.43" y2="871.50" stroke="#111" stroke-width="1.4" />
<line x1="137.44" y1="868.50" x2="137.44" y2="871.50" stroke="#111" stroke-width="1.4" />
<line x1="148.45" y1="868.50" x2="148.45" y2="871.50" stroke="#111" stroke-width="1.4" />
<line x1="159.46" y1="868.50" x2="159.46" y2="871.50" stroke="#111" stroke-width="1.4" />
<line x1="170.47" y1="868.50" x2="170.47" y2="871.50" stroke="#111" stroke-width="1.4" />
<line x1="181.48" y1="868.50" x2="181.48" y2="871.50" stroke="#111" stroke-width="1.4" />
<line x1="192.49" y1="868.50" x2="192.49" y2="871.50" stroke="#111" stroke-width="1.4" />
<line x1="203.50" y1="868.50" x2="203.50" y2="871.50" stroke="#111" stroke-width="1.4" />
<line x1="214.51" y1="868.50" x2="214.51" y2="871.50" stroke="#111" stroke-width="1.4" />
<line x1="225.52" y1="868.50" x2="225.52" y2="871.50" stroke="#111" stroke-width="1.4" />
<line x1="250.70" y1="868.50" x2="250.70" y2="871.50" stroke="#111" stroke-width="1.4" />
<line x1="261.67" y1="868.50" x2="261.67" y2="871.50" stroke="#111" stroke-width="1.4" />
<line x1="272.64" y1="868.50" x2="272.64" y2="871.50" stroke="#111" stroke-width="1.4" />
<line x1="283.61" y1="868.50" x2="283.61" y2="871.50" stroke="#111" stroke-width="1.4" />
<line x1="294.58" y1="868.50" x2="294.58" y2="871.50" stroke="#111" stroke-width="1.4" />
<line x1="305.55" y1="868.50" x2="305.55" y2="871.50" stroke="#111" stroke-width="1.4" />
<line x1="316.52" y1="868.50" x2="316.52" y2="871.50" stroke="#111" stroke-width="1.4" />
<line x1="327.49" y1="868.50" x2="327.49" y2="871.50" stroke="#111" stroke-width="1.4" />
<line x1="338.46" y1="868.50" x2="338.46" y2="871.50" stroke="#111" stroke-width="1.4" />
<line x1="349.43" y1="868.50" x2="349.43" y2="871.50" stroke="#111" stroke-width="1.4" />
<line x1="360.40" y1="868.50" x2="360.40" y2="871.50" stroke="#111" stroke-width="1.4" />
<line x1="371.37" y1="868.50" x2="371.37" y2="871.50" stroke="#111" stroke-width="1.4" />
<line x1="382.34" y1="868.50" x2="382.34" y2="871.50" stroke="#111" stroke-width="1.4" />
<text x="56.9" y="887.3" font-size="12.2" text-anchor="middle" font-weight="bold" fill="#111" >B1</text>
<text x="78.0" y="887.3" font-size="12.2" text-anchor="middle" font-weight="bold" fill="#111" >B3</text>
<text x="93.4" y="887.3" font-size="12.2" text-anchor="middle" font-weight="bold" fill="#111" >1</text>
<text x="250.7" y="887.3" font-size="12.2" text-anchor="middle" font-weight="bold" fill="#111" >1</text>
<text x="115.4" y="887.3" font-size="12.2" text-anchor="middle" font-weight="bold" fill="#111" >3</text>
<text x="272.6" y="887.3" font-size="12.2" text-anchor="middle" font-weight="bold" fill="#111" >3</text>
<text x="137.4" y="887.3" font-size="12.2" text-anchor="middle" font-weight="bold" fill="#111" >5</text>
<text x="294.6" y="887.3" font-size="12.2" text-anchor="middle" font-weight="bold" fill="#111" >5</text>
<text x="159.5" y="887.3" font-size="12.2" text-anchor="middle" font-weight="bold" fill="#111" >7</text>
<text x="316.5" y="887.3" font-size="12.2" text-anchor="middle" font-weight="bold" fill="#111" >7</text>
<text x="181.5" y="887.3" font-size="12.2" text-anchor="middle" font-weight="bold" fill="#111" >9</text>
<text x="338.5" y="887.3" font-size="12.2" text-anchor="middle" font-weight="bold" fill="#111" >9</text>
<text x="203.5" y="887.3" font-size="12.2" text-anchor="middle" font-weight="bold" fill="#111" >11</text>
<text x="360.4" y="887.3" font-size="12.2" text-anchor="middle" font-weight="bold" fill="#111" >11</text>
<text x="225.5" y="887.3" font-size="12.2" text-anchor="middle" font-weight="bold" fill="#111" >13</text>
<text x="382.3" y="887.3" font-size="12.2" text-anchor="middle" font-weight="bold" fill="#111" >13</text>
<text x="69.5" y="902.5" font-size="11.5" text-anchor="middle" font-weight="bold" fill="#111" >Baseline</text>
<text x="171.3" y="902.5" font-size="11.5" text-anchor="middle" font-weight="bold" fill="#111" >Pre-lesion Testing</text>
<text x="319.4" y="902.5" font-size="11.5" text-anchor="middle" font-weight="bold" fill="#111" >Post-lesion Testing</text>
<text x="237.1" y="924.9" font-size="16.5" text-anchor="middle" font-weight="bold" fill="#111" >Days</text>
<line x1="85.20" y1="646.50" x2="85.20" y2="868.50" stroke="#111" stroke-width="1.8" />
<line x1="237.00" y1="646.50" x2="237.00" y2="868.50" stroke="#111" stroke-width="1.8" />
<text x="86.5" y="628.2" font-size="11.5" text-anchor="middle" font-weight="bold" fill="#111" >Start of</text>
<text x="86.8" y="640.3" font-size="11.5" text-anchor="middle" font-weight="bold" fill="#111" >Stress</text>
<text x="243.0" y="628.2" font-size="11.5" text-anchor="middle" font-weight="bold" fill="#111" >Ischemic</text>
<text x="243.0" y="640.3" font-size="11.5" text-anchor="middle" font-weight="bold" fill="#111" >Lesion</text>
<text x="13.8" y="620.2" font-size="19" text-anchor="start" font-weight="bold" fill="#111" >C</text>
<text x="0" y="0" font-size="16.3" text-anchor="middle" font-weight="bold" fill="#111" transform="translate(22.6,757.2) rotate(-90)">Number of Attempts</text>
<line x1="55.30" y1="795.80" x2="55.30" y2="802.10" stroke="#222" stroke-width="1.45" />
<line x1="52.30" y1="795.80" x2="58.30" y2="795.80" stroke="#222" stroke-width="1.3" />
<line x1="52.30" y1="802.10" x2="58.30" y2="802.10" stroke="#222" stroke-width="1.3" />
<line x1="66.40" y1="798.30" x2="66.40" y2="803.10" stroke="#222" stroke-width="1.45" />
<line x1="63.40" y1="798.30" x2="69.40" y2="798.30" stroke="#222" stroke-width="1.3" />
<line x1="63.40" y1="803.10" x2="69.40" y2="803.10" stroke="#222" stroke-width="1.3" />
<line x1="77.50" y1="794.40" x2="77.50" y2="805.50" stroke="#222" stroke-width="1.45" />
<line x1="74.50" y1="794.40" x2="80.50" y2="794.40" stroke="#222" stroke-width="1.3" />
<line x1="74.50" y1="805.50" x2="80.50" y2="805.50" stroke="#222" stroke-width="1.3" />
<line x1="93.40" y1="769.60" x2="93.40" y2="783.70" stroke="#222" stroke-width="1.45" />
<line x1="90.40" y1="769.60" x2="96.40" y2="769.60" stroke="#222" stroke-width="1.3" />
<line x1="90.40" y1="783.70" x2="96.40" y2="783.70" stroke="#222" stroke-width="1.3" />
<line x1="93.40" y1="797.50" x2="93.40" y2="804.00" stroke="#222" stroke-width="1.45" />
<line x1="90.40" y1="797.50" x2="96.40" y2="797.50" stroke="#222" stroke-width="1.3" />
<line x1="90.40" y1="804.00" x2="96.40" y2="804.00" stroke="#222" stroke-width="1.3" />
<line x1="104.41" y1="769.60" x2="104.41" y2="780.20" stroke="#222" stroke-width="1.45" />
<line x1="101.41" y1="769.60" x2="107.41" y2="769.60" stroke="#222" stroke-width="1.3" />
<line x1="101.41" y1="780.20" x2="107.41" y2="780.20" stroke="#222" stroke-width="1.3" />
<line x1="104.41" y1="800.00" x2="104.41" y2="807.00" stroke="#222" stroke-width="1.45" />
<line x1="101.41" y1="800.00" x2="107.41" y2="800.00" stroke="#222" stroke-width="1.3" />
<line x1="101.41" y1="807.00" x2="107.41" y2="807.00" stroke="#222" stroke-width="1.3" />
<line x1="115.42" y1="767.60" x2="115.42" y2="781.20" stroke="#222" stroke-width="1.45" />
<line x1="112.42" y1="767.60" x2="118.42" y2="767.60" stroke="#222" stroke-width="1.3" />
<line x1="112.42" y1="781.20" x2="118.42" y2="781.20" stroke="#222" stroke-width="1.3" />
<line x1="115.42" y1="791.50" x2="115.42" y2="805.90" stroke="#222" stroke-width="1.45" />
<line x1="112.42" y1="791.50" x2="118.42" y2="791.50" stroke="#222" stroke-width="1.3" />
<line x1="112.42" y1="805.90" x2="118.42" y2="805.90" stroke="#222" stroke-width="1.3" />
<line x1="126.43" y1="762.80" x2="126.43" y2="780.60" stroke="#222" stroke-width="1.45" />
<line x1="123.43" y1="762.80" x2="129.43" y2="762.80" stroke="#222" stroke-width="1.3" />
<line x1="123.43" y1="780.60" x2="129.43" y2="780.60" stroke="#222" stroke-width="1.3" />
<line x1="126.43" y1="792.90" x2="126.43" y2="801.20" stroke="#222" stroke-width="1.45" />
<line x1="123.43" y1="792.90" x2="129.43" y2="792.90" stroke="#222" stroke-width="1.3" />
<line x1="123.43" y1="801.20" x2="129.43" y2="801.20" stroke="#222" stroke-width="1.3" />
<line x1="137.44" y1="779.90" x2="137.44" y2="787.50" stroke="#222" stroke-width="1.45" />
<line x1="134.44" y1="779.90" x2="140.44" y2="779.90" stroke="#222" stroke-width="1.3" />
<line x1="134.44" y1="787.50" x2="140.44" y2="787.50" stroke="#222" stroke-width="1.3" />
<line x1="137.44" y1="788.00" x2="137.44" y2="801.60" stroke="#222" stroke-width="1.45" />
<line x1="134.44" y1="788.00" x2="140.44" y2="788.00" stroke="#222" stroke-width="1.3" />
<line x1="134.44" y1="801.60" x2="140.44" y2="801.60" stroke="#222" stroke-width="1.3" />
<line x1="148.45" y1="775.40" x2="148.45" y2="790.90" stroke="#222" stroke-width="1.45" />
<line x1="145.45" y1="775.40" x2="151.45" y2="775.40" stroke="#222" stroke-width="1.3" />
<line x1="145.45" y1="790.90" x2="151.45" y2="790.90" stroke="#222" stroke-width="1.3" />
<line x1="148.45" y1="792.00" x2="148.45" y2="800.50" stroke="#222" stroke-width="1.45" />
<line x1="145.45" y1="792.00" x2="151.45" y2="792.00" stroke="#222" stroke-width="1.3" />
<line x1="145.45" y1="800.50" x2="151.45" y2="800.50" stroke="#222" stroke-width="1.3" />
<line x1="159.46" y1="778.50" x2="159.46" y2="786.60" stroke="#222" stroke-width="1.45" />
<line x1="156.46" y1="778.50" x2="162.46" y2="778.50" stroke="#222" stroke-width="1.3" />
<line x1="156.46" y1="786.60" x2="162.46" y2="786.60" stroke="#222" stroke-width="1.3" />
<line x1="159.46" y1="792.90" x2="159.46" y2="800.00" stroke="#222" stroke-width="1.45" />
<line x1="156.46" y1="792.90" x2="162.46" y2="792.90" stroke="#222" stroke-width="1.3" />
<line x1="156.46" y1="800.00" x2="162.46" y2="800.00" stroke="#222" stroke-width="1.3" />
<line x1="170.47" y1="773.50" x2="170.47" y2="785.50" stroke="#222" stroke-width="1.45" />
<line x1="167.47" y1="773.50" x2="173.47" y2="773.50" stroke="#222" stroke-width="1.3" />
<line x1="167.47" y1="785.50" x2="173.47" y2="785.50" stroke="#222" stroke-width="1.3" />
<line x1="170.47" y1="793.20" x2="170.47" y2="802.60" stroke="#222" stroke-width="1.45" />
<line x1="167.47" y1="793.20" x2="173.47" y2="793.20" stroke="#222" stroke-width="1.3" />
<line x1="167.47" y1="802.60" x2="173.47" y2="802.60" stroke="#222" stroke-width="1.3" />
<line x1="181.48" y1="757.60" x2="181.48" y2="771.30" stroke="#222" stroke-width="1.45" />
<line x1="178.48" y1="757.60" x2="184.48" y2="757.60" stroke="#222" stroke-width="1.3" />
<line x1="178.48" y1="771.30" x2="184.48" y2="771.30" stroke="#222" stroke-width="1.3" />
<line x1="181.48" y1="794.00" x2="181.48" y2="802.50" stroke="#222" stroke-width="1.45" />
<line x1="178.48" y1="794.00" x2="184.48" y2="794.00" stroke="#222" stroke-width="1.3" />
<line x1="178.48" y1="802.50" x2="184.48" y2="802.50" stroke="#222" stroke-width="1.3" />
<line x1="192.49" y1="766.30" x2="192.49" y2="782.30" stroke="#222" stroke-width="1.45" />
<line x1="189.49" y1="766.30" x2="195.49" y2="766.30" stroke="#222" stroke-width="1.3" />
<line x1="189.49" y1="782.30" x2="195.49" y2="782.30" stroke="#222" stroke-width="1.3" />
<line x1="192.49" y1="786.60" x2="192.49" y2="801.90" stroke="#222" stroke-width="1.45" />
<line x1="189.49" y1="786.60" x2="195.49" y2="786.60" stroke="#222" stroke-width="1.3" />
<line x1="189.49" y1="801.90" x2="195.49" y2="801.90" stroke="#222" stroke-width="1.3" />
<line x1="203.50" y1="759.80" x2="203.50" y2="775.00" stroke="#222" stroke-width="1.45" />
<line x1="200.50" y1="759.80" x2="206.50" y2="759.80" stroke="#222" stroke-width="1.3" />
<line x1="200.50" y1="775.00" x2="206.50" y2="775.00" stroke="#222" stroke-width="1.3" />
<line x1="203.50" y1="773.50" x2="203.50" y2="791.00" stroke="#222" stroke-width="1.45" />
<line x1="200.50" y1="773.50" x2="206.50" y2="773.50" stroke="#222" stroke-width="1.3" />
<line x1="200.50" y1="791.00" x2="206.50" y2="791.00" stroke="#222" stroke-width="1.3" />
<line x1="203.50" y1="793.00" x2="203.50" y2="801.00" stroke="#222" stroke-width="1.45" />
<line x1="200.50" y1="793.00" x2="206.50" y2="793.00" stroke="#222" stroke-width="1.3" />
<line x1="200.50" y1="801.00" x2="206.50" y2="801.00" stroke="#222" stroke-width="1.3" />
<line x1="214.51" y1="764.80" x2="214.51" y2="773.50" stroke="#222" stroke-width="1.45" />
<line x1="211.51" y1="764.80" x2="217.51" y2="764.80" stroke="#222" stroke-width="1.3" />
<line x1="211.51" y1="773.50" x2="217.51" y2="773.50" stroke="#222" stroke-width="1.3" />
<line x1="214.51" y1="792.10" x2="214.51" y2="803.00" stroke="#222" stroke-width="1.45" />
<line x1="211.51" y1="792.10" x2="217.51" y2="792.10" stroke="#222" stroke-width="1.3" />
<line x1="211.51" y1="803.00" x2="217.51" y2="803.00" stroke="#222" stroke-width="1.3" />
<line x1="225.52" y1="754.50" x2="225.52" y2="776.40" stroke="#222" stroke-width="1.45" />
<line x1="222.52" y1="754.50" x2="228.52" y2="754.50" stroke="#222" stroke-width="1.3" />
<line x1="222.52" y1="776.40" x2="228.52" y2="776.40" stroke="#222" stroke-width="1.3" />
<line x1="225.52" y1="791.60" x2="225.52" y2="803.00" stroke="#222" stroke-width="1.45" />
<line x1="222.52" y1="791.60" x2="228.52" y2="791.60" stroke="#222" stroke-width="1.3" />
<line x1="222.52" y1="803.00" x2="228.52" y2="803.00" stroke="#222" stroke-width="1.3" />
<line x1="250.90" y1="731.40" x2="250.90" y2="753.80" stroke="#222" stroke-width="1.45" />
<line x1="247.90" y1="731.40" x2="253.90" y2="731.40" stroke="#222" stroke-width="1.3" />
<line x1="247.90" y1="753.80" x2="253.90" y2="753.80" stroke="#222" stroke-width="1.3" />
<line x1="250.90" y1="767.30" x2="250.90" y2="780.40" stroke="#222" stroke-width="1.45" />
<line x1="247.90" y1="767.30" x2="253.90" y2="767.30" stroke="#222" stroke-width="1.3" />
<line x1="247.90" y1="780.40" x2="253.90" y2="780.40" stroke="#222" stroke-width="1.3" />
<line x1="250.90" y1="782.00" x2="250.90" y2="789.90" stroke="#222" stroke-width="1.45" />
<line x1="247.90" y1="782.00" x2="253.90" y2="782.00" stroke="#222" stroke-width="1.3" />
<line x1="247.90" y1="789.90" x2="253.90" y2="789.90" stroke="#222" stroke-width="1.3" />
<line x1="261.90" y1="747.40" x2="261.90" y2="778.50" stroke="#222" stroke-width="1.45" />
<line x1="258.90" y1="747.40" x2="264.90" y2="747.40" stroke="#222" stroke-width="1.3" />
<line x1="258.90" y1="778.50" x2="264.90" y2="778.50" stroke="#222" stroke-width="1.3" />
<line x1="261.90" y1="788.20" x2="261.90" y2="799.40" stroke="#222" stroke-width="1.45" />
<line x1="258.90" y1="788.20" x2="264.90" y2="788.20" stroke="#222" stroke-width="1.3" />
<line x1="258.90" y1="799.40" x2="264.90" y2="799.40" stroke="#222" stroke-width="1.3" />
<line x1="272.90" y1="749.10" x2="272.90" y2="760.00" stroke="#222" stroke-width="1.45" />
<line x1="269.90" y1="749.10" x2="275.90" y2="749.10" stroke="#222" stroke-width="1.3" />
<line x1="269.90" y1="760.00" x2="275.90" y2="760.00" stroke="#222" stroke-width="1.3" />
<line x1="272.90" y1="770.20" x2="272.90" y2="778.20" stroke="#222" stroke-width="1.45" />
<line x1="269.90" y1="770.20" x2="275.90" y2="770.20" stroke="#222" stroke-width="1.3" />
<line x1="269.90" y1="778.20" x2="275.90" y2="778.20" stroke="#222" stroke-width="1.3" />
<line x1="272.90" y1="792.00" x2="272.90" y2="799.80" stroke="#222" stroke-width="1.45" />
<line x1="269.90" y1="792.00" x2="275.90" y2="792.00" stroke="#222" stroke-width="1.3" />
<line x1="269.90" y1="799.80" x2="275.90" y2="799.80" stroke="#222" stroke-width="1.3" />
<line x1="283.90" y1="737.80" x2="283.90" y2="755.70" stroke="#222" stroke-width="1.45" />
<line x1="280.90" y1="737.80" x2="286.90" y2="737.80" stroke="#222" stroke-width="1.3" />
<line x1="280.90" y1="755.70" x2="286.90" y2="755.70" stroke="#222" stroke-width="1.3" />
<line x1="283.90" y1="760.00" x2="283.90" y2="774.60" stroke="#222" stroke-width="1.45" />
<line x1="280.90" y1="760.00" x2="286.90" y2="760.00" stroke="#222" stroke-width="1.3" />
<line x1="280.90" y1="774.60" x2="286.90" y2="774.60" stroke="#222" stroke-width="1.3" />
<line x1="283.90" y1="782.90" x2="283.90" y2="795.70" stroke="#222" stroke-width="1.45" />
<line x1="280.90" y1="782.90" x2="286.90" y2="782.90" stroke="#222" stroke-width="1.3" />
<line x1="280.90" y1="795.70" x2="286.90" y2="795.70" stroke="#222" stroke-width="1.3" />
<line x1="294.90" y1="740.40" x2="294.90" y2="750.60" stroke="#222" stroke-width="1.45" />
<line x1="291.90" y1="740.40" x2="297.90" y2="740.40" stroke="#222" stroke-width="1.3" />
<line x1="291.90" y1="750.60" x2="297.90" y2="750.60" stroke="#222" stroke-width="1.3" />
<line x1="294.90" y1="760.00" x2="294.90" y2="772.00" stroke="#222" stroke-width="1.45" />
<line x1="291.90" y1="760.00" x2="297.90" y2="760.00" stroke="#222" stroke-width="1.3" />
<line x1="291.90" y1="772.00" x2="297.90" y2="772.00" stroke="#222" stroke-width="1.3" />
<line x1="294.90" y1="771.00" x2="294.90" y2="783.30" stroke="#222" stroke-width="1.45" />
<line x1="291.90" y1="771.00" x2="297.90" y2="771.00" stroke="#222" stroke-width="1.3" />
<line x1="291.90" y1="783.30" x2="297.90" y2="783.30" stroke="#222" stroke-width="1.3" />
<line x1="305.90" y1="710.10" x2="305.90" y2="737.20" stroke="#222" stroke-width="1.45" />
<line x1="302.90" y1="710.10" x2="308.90" y2="710.10" stroke="#222" stroke-width="1.3" />
<line x1="302.90" y1="737.20" x2="308.90" y2="737.20" stroke="#222" stroke-width="1.3" />
<line x1="305.90" y1="759.70" x2="305.90" y2="781.60" stroke="#222" stroke-width="1.45" />
<line x1="302.90" y1="759.70" x2="308.90" y2="759.70" stroke="#222" stroke-width="1.3" />
<line x1="302.90" y1="781.60" x2="308.90" y2="781.60" stroke="#222" stroke-width="1.3" />
<line x1="316.90" y1="727.60" x2="316.90" y2="746.60" stroke="#222" stroke-width="1.45" />
<line x1="313.90" y1="727.60" x2="319.90" y2="727.60" stroke="#222" stroke-width="1.3" />
<line x1="313.90" y1="746.60" x2="319.90" y2="746.60" stroke="#222" stroke-width="1.3" />
<line x1="316.90" y1="755.40" x2="316.90" y2="773.90" stroke="#222" stroke-width="1.45" />
<line x1="313.90" y1="755.40" x2="319.90" y2="755.40" stroke="#222" stroke-width="1.3" />
<line x1="313.90" y1="773.90" x2="319.90" y2="773.90" stroke="#222" stroke-width="1.3" />
<line x1="327.90" y1="694.00" x2="327.90" y2="733.40" stroke="#222" stroke-width="1.45" />
<line x1="324.90" y1="694.00" x2="330.90" y2="694.00" stroke="#222" stroke-width="1.3" />
<line x1="324.90" y1="733.40" x2="330.90" y2="733.40" stroke="#222" stroke-width="1.3" />
<line x1="327.90" y1="759.20" x2="327.90" y2="778.20" stroke="#222" stroke-width="1.45" />
<line x1="324.90" y1="759.20" x2="330.90" y2="759.20" stroke="#222" stroke-width="1.3" />
<line x1="324.90" y1="778.20" x2="330.90" y2="778.20" stroke="#222" stroke-width="1.3" />
<line x1="338.90" y1="725.20" x2="338.90" y2="746.40" stroke="#222" stroke-width="1.45" />
<line x1="335.90" y1="725.20" x2="341.90" y2="725.20" stroke="#222" stroke-width="1.3" />
<line x1="335.90" y1="746.40" x2="341.90" y2="746.40" stroke="#222" stroke-width="1.3" />
<line x1="338.90" y1="756.50" x2="338.90" y2="778.20" stroke="#222" stroke-width="1.45" />
<line x1="335.90" y1="756.50" x2="341.90" y2="756.50" stroke="#222" stroke-width="1.3" />
<line x1="335.90" y1="778.20" x2="341.90" y2="778.20" stroke="#222" stroke-width="1.3" />
<line x1="349.90" y1="725.80" x2="349.90" y2="749.70" stroke="#222" stroke-width="1.45" />
<line x1="346.90" y1="725.80" x2="352.90" y2="725.80" stroke="#222" stroke-width="1.3" />
<line x1="346.90" y1="749.70" x2="352.90" y2="749.70" stroke="#222" stroke-width="1.3" />
<line x1="349.90" y1="752.00" x2="349.90" y2="774.20" stroke="#222" stroke-width="1.45" />
<line x1="346.90" y1="752.00" x2="352.90" y2="752.00" stroke="#222" stroke-width="1.3" />
<line x1="346.90" y1="774.20" x2="352.90" y2="774.20" stroke="#222" stroke-width="1.3" />
<line x1="360.90" y1="745.60" x2="360.90" y2="763.00" stroke="#222" stroke-width="1.45" />
<line x1="357.90" y1="745.60" x2="363.90" y2="745.60" stroke="#222" stroke-width="1.3" />
<line x1="357.90" y1="763.00" x2="363.90" y2="763.00" stroke="#222" stroke-width="1.3" />
<line x1="360.90" y1="762.00" x2="360.90" y2="787.80" stroke="#222" stroke-width="1.45" />
<line x1="357.90" y1="762.00" x2="363.90" y2="762.00" stroke="#222" stroke-width="1.3" />
<line x1="357.90" y1="787.80" x2="363.90" y2="787.80" stroke="#222" stroke-width="1.3" />
<line x1="371.90" y1="749.70" x2="371.90" y2="762.00" stroke="#222" stroke-width="1.45" />
<line x1="368.90" y1="749.70" x2="374.90" y2="749.70" stroke="#222" stroke-width="1.3" />
<line x1="368.90" y1="762.00" x2="374.90" y2="762.00" stroke="#222" stroke-width="1.3" />
<line x1="371.90" y1="757.00" x2="371.90" y2="782.30" stroke="#222" stroke-width="1.45" />
<line x1="368.90" y1="757.00" x2="374.90" y2="757.00" stroke="#222" stroke-width="1.3" />
<line x1="368.90" y1="782.30" x2="374.90" y2="782.30" stroke="#222" stroke-width="1.3" />
<line x1="382.90" y1="746.60" x2="382.90" y2="763.00" stroke="#222" stroke-width="1.45" />
<line x1="379.90" y1="746.60" x2="385.90" y2="746.60" stroke="#222" stroke-width="1.3" />
<line x1="379.90" y1="763.00" x2="385.90" y2="763.00" stroke="#222" stroke-width="1.3" />
<line x1="382.90" y1="753.30" x2="382.90" y2="770.00" stroke="#222" stroke-width="1.45" />
<line x1="379.90" y1="753.30" x2="385.90" y2="753.30" stroke="#222" stroke-width="1.3" />
<line x1="379.90" y1="770.00" x2="385.90" y2="770.00" stroke="#222" stroke-width="1.3" />
<line x1="382.90" y1="773.10" x2="382.90" y2="781.80" stroke="#222" stroke-width="1.45" />
<line x1="379.90" y1="773.10" x2="385.90" y2="773.10" stroke="#222" stroke-width="1.3" />
<line x1="379.90" y1="781.80" x2="385.90" y2="781.80" stroke="#222" stroke-width="1.3" />
<polyline points="55.30,799.20 66.40,800.70 77.50,797.30" fill="none" stroke="#111" stroke-width="1.8" stroke-linejoin="miter"/>
<polyline points="93.40,800.60 104.41,803.50 115.42,795.40 126.43,796.20 137.44,791.90 148.45,796.20 159.46,796.50 170.47,795.40 181.48,799.00 192.49,797.50 203.50,797.50 214.51,799.10 225.52,795.40" fill="none" stroke="#111" stroke-width="1.8" stroke-linejoin="miter"/>
<polyline points="250.90,785.80 261.90,794.30 272.90,796.00 283.90,789.60 294.90,777.10 305.90,773.90 316.90,760.60 327.90,763.30 338.90,769.30 349.90,756.50 360.90,782.30 371.90,776.90 382.90,777.40" fill="none" stroke="#111" stroke-width="1.8" stroke-linejoin="miter"/>
<polyline points="55.30,799.20 66.40,800.70 77.50,803.60" fill="none" stroke="#111" stroke-width="1.9" stroke-linejoin="miter"/>
<polyline points="93.40,800.60 104.41,803.50 115.42,798.70 126.43,796.20 137.44,797.30 148.45,796.20 159.46,796.50 170.47,799.70 181.48,798.20 192.49,794.30 203.50,781.60 214.51,796.90 225.52,796.50" fill="none" stroke="#111" stroke-width="1.9" stroke-linejoin="miter"/>
<polyline points="250.90,742.60 261.90,766.30 272.90,773.90 283.90,766.90 294.90,766.90 305.90,766.30 316.90,766.00 327.90,768.70 338.90,764.60 349.90,764.60 360.90,767.40 371.90,763.30 382.90,760.90" fill="none" stroke="#111" stroke-width="1.9" stroke-linejoin="miter"/>
<polyline points="55.30,799.20 66.40,800.70 77.50,803.60" fill="none" stroke="#1a1a1a" stroke-width="1.8" stroke-linejoin="miter"/>
<polyline points="93.40,775.40 104.41,774.40 115.42,774.00 126.43,772.10 137.44,783.70 148.45,783.20 159.46,782.90 170.47,779.40 181.48,764.80 192.49,774.20 203.50,768.10 214.51,769.10 225.52,764.80" fill="none" stroke="#9a9a9a" stroke-width="1.8" stroke-linejoin="miter"/>
<polyline points="250.90,773.20 261.90,764.40 272.90,754.70 283.90,746.90 294.90,744.80 305.90,723.80 316.90,736.20 327.90,713.80 338.90,733.90 349.90,738.30 360.90,755.10 371.90,755.70 382.90,755.30" fill="none" stroke="#9a9a9a" stroke-width="1.8" stroke-linejoin="miter"/>
<polygon points="55.30,796.00 58.50,801.44 52.10,801.44" fill="#fff" stroke="#111" stroke-width="1.0"/>
<polygon points="66.40,797.50 69.60,802.94 63.20,802.94" fill="#fff" stroke="#111" stroke-width="1.0"/>
<polygon points="77.50,794.10 80.70,799.54 74.30,799.54" fill="#fff" stroke="#111" stroke-width="1.0"/>
<polygon points="93.40,797.40 96.60,802.84 90.20,802.84" fill="#fff" stroke="#111" stroke-width="1.0"/>
<polygon points="104.41,800.30 107.61,805.74 101.21,805.74" fill="#fff" stroke="#111" stroke-width="1.0"/>
<polygon points="115.42,792.20 118.62,797.64 112.22,797.64" fill="#fff" stroke="#111" stroke-width="1.0"/>
<polygon points="126.43,793.00 129.63,798.44 123.23,798.44" fill="#fff" stroke="#111" stroke-width="1.0"/>
<polygon points="137.44,788.70 140.64,794.14 134.24,794.14" fill="#fff" stroke="#111" stroke-width="1.0"/>
<polygon points="148.45,793.00 151.65,798.44 145.25,798.44" fill="#fff" stroke="#111" stroke-width="1.0"/>
<polygon points="159.46,793.30 162.66,798.74 156.26,798.74" fill="#fff" stroke="#111" stroke-width="1.0"/>
<polygon points="170.47,792.20 173.67,797.64 167.27,797.64" fill="#fff" stroke="#111" stroke-width="1.0"/>
<polygon points="181.48,795.80 184.68,801.24 178.28,801.24" fill="#fff" stroke="#111" stroke-width="1.0"/>
<polygon points="192.49,794.30 195.69,799.74 189.29,799.74" fill="#fff" stroke="#111" stroke-width="1.0"/>
<polygon points="203.50,794.30 206.70,799.74 200.30,799.74" fill="#fff" stroke="#111" stroke-width="1.0"/>
<polygon points="214.51,795.90 217.71,801.34 211.31,801.34" fill="#fff" stroke="#111" stroke-width="1.0"/>
<polygon points="225.52,792.20 228.72,797.64 222.32,797.64" fill="#fff" stroke="#111" stroke-width="1.0"/>
<polygon points="250.90,782.60 254.10,788.04 247.70,788.04" fill="#fff" stroke="#111" stroke-width="1.0"/>
<polygon points="261.90,791.10 265.10,796.54 258.70,796.54" fill="#fff" stroke="#111" stroke-width="1.0"/>
<polygon points="272.90,792.80 276.10,798.24 269.70,798.24" fill="#fff" stroke="#111" stroke-width="1.0"/>
<polygon points="283.90,786.40 287.10,791.84 280.70,791.84" fill="#fff" stroke="#111" stroke-width="1.0"/>
<polygon points="294.90,773.90 298.10,779.34 291.70,779.34" fill="#fff" stroke="#111" stroke-width="1.0"/>
<polygon points="305.90,770.70 309.10,776.14 302.70,776.14" fill="#fff" stroke="#111" stroke-width="1.0"/>
<polygon points="316.90,757.40 320.10,762.84 313.70,762.84" fill="#fff" stroke="#111" stroke-width="1.0"/>
<polygon points="327.90,760.10 331.10,765.54 324.70,765.54" fill="#fff" stroke="#111" stroke-width="1.0"/>
<polygon points="338.90,766.10 342.10,771.54 335.70,771.54" fill="#fff" stroke="#111" stroke-width="1.0"/>
<polygon points="349.90,753.30 353.10,758.74 346.70,758.74" fill="#fff" stroke="#111" stroke-width="1.0"/>
<polygon points="360.90,779.10 364.10,784.54 357.70,784.54" fill="#fff" stroke="#111" stroke-width="1.0"/>
<polygon points="371.90,773.70 375.10,779.14 368.70,779.14" fill="#fff" stroke="#111" stroke-width="1.0"/>
<polygon points="382.90,774.20 386.10,779.64 379.70,779.64" fill="#fff" stroke="#111" stroke-width="1.0"/>
<rect x="52.90" y="796.80" width="4.80" height="4.80" fill="#1a1a1a"/>
<rect x="64.00" y="798.30" width="4.80" height="4.80" fill="#1a1a1a"/>
<rect x="75.10" y="801.20" width="4.80" height="4.80" fill="#1a1a1a"/>
<rect x="91.00" y="773.00" width="4.80" height="4.80" fill="#9a9a9a"/>
<rect x="102.01" y="772.00" width="4.80" height="4.80" fill="#9a9a9a"/>
<rect x="113.02" y="771.60" width="4.80" height="4.80" fill="#9a9a9a"/>
<rect x="124.03" y="769.70" width="4.80" height="4.80" fill="#9a9a9a"/>
<rect x="135.04" y="781.30" width="4.80" height="4.80" fill="#9a9a9a"/>
<rect x="146.05" y="780.80" width="4.80" height="4.80" fill="#9a9a9a"/>
<rect x="157.06" y="780.50" width="4.80" height="4.80" fill="#9a9a9a"/>
<rect x="168.07" y="777.00" width="4.80" height="4.80" fill="#9a9a9a"/>
<rect x="179.08" y="762.40" width="4.80" height="4.80" fill="#9a9a9a"/>
<rect x="190.09" y="771.80" width="4.80" height="4.80" fill="#9a9a9a"/>
<rect x="201.10" y="765.70" width="4.80" height="4.80" fill="#9a9a9a"/>
<rect x="212.11" y="766.70" width="4.80" height="4.80" fill="#9a9a9a"/>
<rect x="223.12" y="762.40" width="4.80" height="4.80" fill="#9a9a9a"/>
<rect x="248.50" y="770.80" width="4.80" height="4.80" fill="#9a9a9a"/>
<rect x="259.50" y="762.00" width="4.80" height="4.80" fill="#9a9a9a"/>
<rect x="270.50" y="752.30" width="4.80" height="4.80" fill="#9a9a9a"/>
<rect x="281.50" y="744.50" width="4.80" height="4.80" fill="#9a9a9a"/>
<rect x="292.50" y="742.40" width="4.80" height="4.80" fill="#9a9a9a"/>
<rect x="303.50" y="721.40" width="4.80" height="4.80" fill="#9a9a9a"/>
<rect x="314.50" y="733.80" width="4.80" height="4.80" fill="#9a9a9a"/>
<rect x="325.50" y="711.40" width="4.80" height="4.80" fill="#9a9a9a"/>
<rect x="336.50" y="731.50" width="4.80" height="4.80" fill="#9a9a9a"/>
<rect x="347.50" y="735.90" width="4.80" height="4.80" fill="#9a9a9a"/>
<rect x="358.50" y="752.70" width="4.80" height="4.80" fill="#9a9a9a"/>
<rect x="369.50" y="753.30" width="4.80" height="4.80" fill="#9a9a9a"/>
<rect x="380.50" y="752.90" width="4.80" height="4.80" fill="#9a9a9a"/>
<polygon points="55.30,796.10 58.40,799.20 55.30,802.30 52.20,799.20" fill="#111"/>
<polygon points="66.40,797.60 69.50,800.70 66.40,803.80 63.30,800.70" fill="#111"/>
<polygon points="77.50,800.50 80.60,803.60 77.50,806.70 74.40,803.60" fill="#111"/>
<polygon points="93.40,797.50 96.50,800.60 93.40,803.70 90.30,800.60" fill="#111"/>
<polygon points="104.41,800.40 107.51,803.50 104.41,806.60 101.31,803.50" fill="#111"/>
<polygon points="115.42,795.60 118.52,798.70 115.42,801.80 112.32,798.70" fill="#111"/>
<polygon points="126.43,793.10 129.53,796.20 126.43,799.30 123.33,796.20" fill="#111"/>
<polygon points="137.44,794.20 140.54,797.30 137.44,800.40 134.34,797.30" fill="#111"/>
<polygon points="148.45,793.10 151.55,796.20 148.45,799.30 145.35,796.20" fill="#111"/>
<polygon points="159.46,793.40 162.56,796.50 159.46,799.60 156.36,796.50" fill="#111"/>
<polygon points="170.47,796.60 173.57,799.70 170.47,802.80 167.37,799.70" fill="#111"/>
<polygon points="181.48,795.10 184.58,798.20 181.48,801.30 178.38,798.20" fill="#111"/>
<polygon points="192.49,791.20 195.59,794.30 192.49,797.40 189.39,794.30" fill="#111"/>
<polygon points="203.50,778.50 206.60,781.60 203.50,784.70 200.40,781.60" fill="#111"/>
<polygon points="214.51,793.80 217.61,796.90 214.51,800.00 211.41,796.90" fill="#111"/>
<polygon points="225.52,793.40 228.62,796.50 225.52,799.60 222.42,796.50" fill="#111"/>
<polygon points="250.90,739.50 254.00,742.60 250.90,745.70 247.80,742.60" fill="#111"/>
<polygon points="261.90,763.20 265.00,766.30 261.90,769.40 258.80,766.30" fill="#111"/>
<polygon points="272.90,770.80 276.00,773.90 272.90,777.00 269.80,773.90" fill="#111"/>
<polygon points="283.90,763.80 287.00,766.90 283.90,770.00 280.80,766.90" fill="#111"/>
<polygon points="294.90,763.80 298.00,766.90 294.90,770.00 291.80,766.90" fill="#111"/>
<polygon points="305.90,763.20 309.00,766.30 305.90,769.40 302.80,766.30" fill="#111"/>
<polygon points="316.90,762.90 320.00,766.00 316.90,769.10 313.80,766.00" fill="#111"/>
<polygon points="327.90,765.60 331.00,768.70 327.90,771.80 324.80,768.70" fill="#111"/>
<polygon points="338.90,761.50 342.00,764.60 338.90,767.70 335.80,764.60" fill="#111"/>
<polygon points="349.90,761.50 353.00,764.60 349.90,767.70 346.80,764.60" fill="#111"/>
<polygon points="360.90,764.30 364.00,767.40 360.90,770.50 357.80,767.40" fill="#111"/>
<polygon points="371.90,760.20 375.00,763.30 371.90,766.40 368.80,763.30" fill="#111"/>
<polygon points="382.90,757.80 386.00,760.90 382.90,764.00 379.80,760.90" fill="#111"/>
<path d="M224.90,729.80L221.70,729.80M224.90,729.80L223.91,726.76M224.90,729.80L227.49,727.92M224.90,729.80L227.49,731.68M224.90,729.80L223.91,732.84" stroke="#111" stroke-width="1.15" stroke-linecap="round" fill="none"/>
<path d="M224.90,738.60L221.70,738.60M224.90,738.60L223.91,735.56M224.90,738.60L227.49,736.72M224.90,738.60L227.49,740.48M224.90,738.60L223.91,741.64" stroke="#111" stroke-width="1.15" stroke-linecap="round" fill="none"/>
<path d="M224.90,747.30L221.70,747.30M224.90,747.30L223.91,744.26M224.90,747.30L227.49,745.42M224.90,747.30L227.49,749.18M224.90,747.30L223.91,750.34" stroke="#111" stroke-width="1.15" stroke-linecap="round" fill="none"/>
<path d="M391.90,753.80L391.90,750.60M391.90,753.80L394.94,752.81M391.90,753.80L393.78,756.39M391.90,753.80L390.02,756.39M391.90,753.80L388.86,752.81" stroke="#111" stroke-width="1.15" stroke-linecap="round" fill="none"/>
<path d="M400.80,753.80L400.80,750.60M400.80,753.80L403.84,752.81M400.80,753.80L402.68,756.39M400.80,753.80L398.92,756.39M400.80,753.80L397.76,752.81" stroke="#111" stroke-width="1.15" stroke-linecap="round" fill="none"/>
<path d="M391.90,762.40L391.90,759.20M391.90,762.40L394.94,761.41M391.90,762.40L393.78,764.99M391.90,762.40L390.02,764.99M391.90,762.40L388.86,761.41" stroke="#111" stroke-width="1.15" stroke-linecap="round" fill="none"/>
<path d="M400.80,762.40L400.80,759.20M400.80,762.40L403.84,761.41M400.80,762.40L402.68,764.99M400.80,762.40L398.92,764.99M400.80,762.40L397.76,761.41" stroke="#111" stroke-width="1.15" stroke-linecap="round" fill="none"/>
<line x1="249.70" y1="683.50" x2="385.30" y2="683.50" stroke="#333" stroke-width="1.4" />
<text x="318" y="681.2" font-size="14" font-weight="bold" text-anchor="middle" fill="#111" textLength="25.3" lengthAdjust="spacingAndGlyphs">###</text>
<line x1="289.40" y1="65.90" x2="308.80" y2="65.90" stroke="#111" stroke-width="1.8" />
<polygon points="299.20,62.20 302.50,67.81 295.90,67.81" fill="#fff" stroke="#111" stroke-width="1.0"/>
<text x="312.8" y="68.9" font-size="11.8" text-anchor="start" font-weight="bold" fill="#111" >Controls</text>
<line x1="289.40" y1="81.50" x2="308.80" y2="81.50" stroke="#9a9a9a" stroke-width="1.8" />
<rect x="296.90" y="79.10" width="4.80" height="4.80" fill="#9a9a9a"/>
<text x="312.8" y="85.2" font-size="11.8" text-anchor="start" font-weight="bold" fill="#111" >Pre-Stress</text>
<line x1="289.40" y1="97.50" x2="308.80" y2="97.50" stroke="#111" stroke-width="1.8" />
<polygon points="299.50,93.90 303.10,97.50 299.50,101.10 295.90,97.50" fill="#111"/>
<text x="312.8" y="101.0" font-size="11.8" text-anchor="start" font-weight="bold" fill="#111" >Post-Stress</text>
</svg>
</body></html>
